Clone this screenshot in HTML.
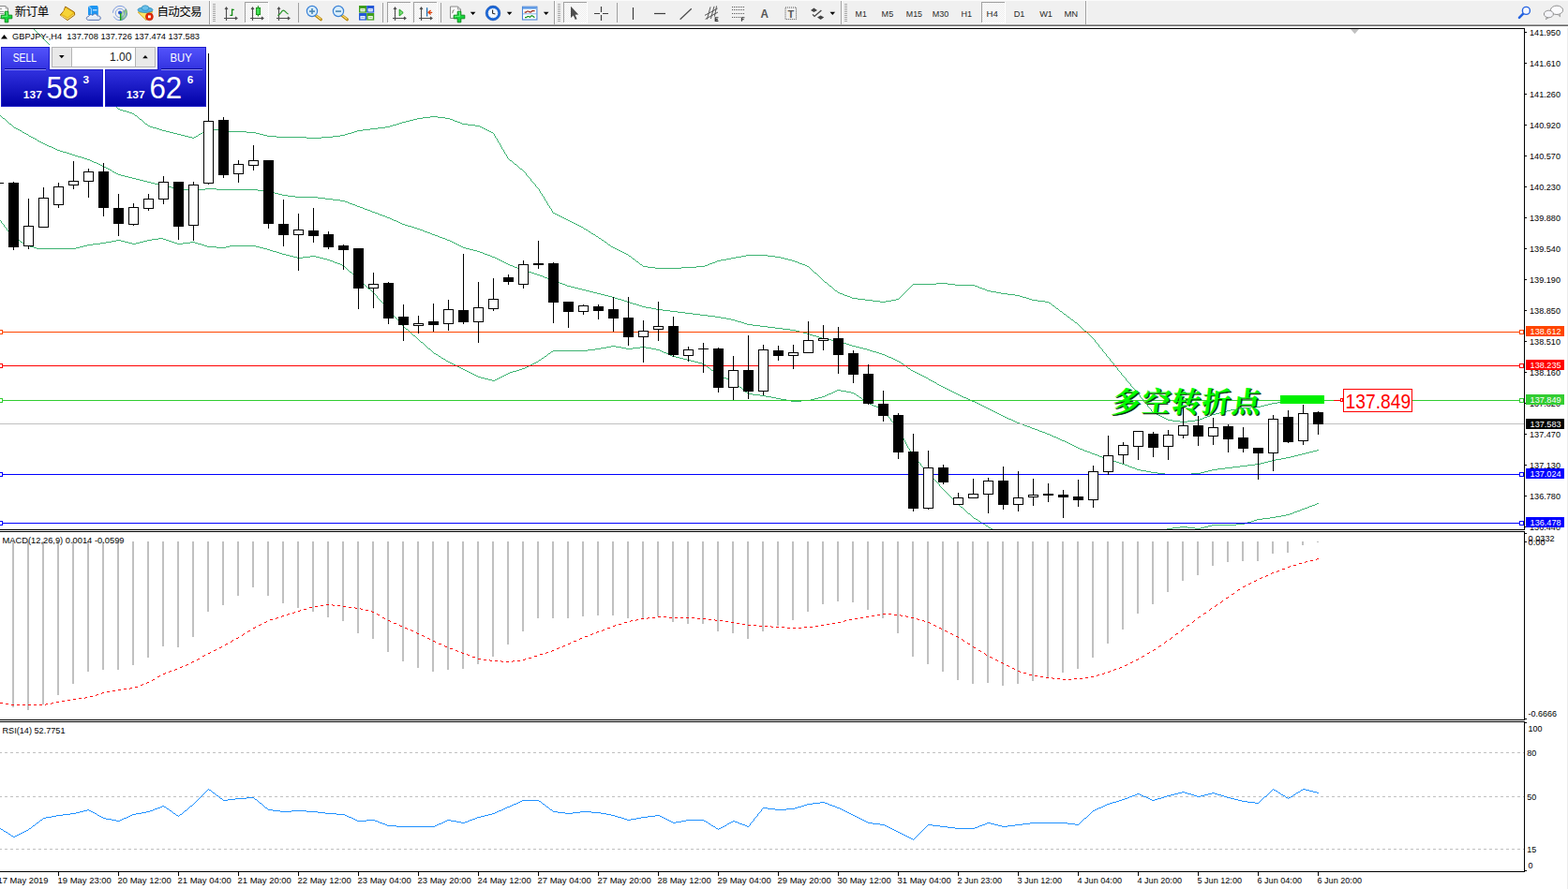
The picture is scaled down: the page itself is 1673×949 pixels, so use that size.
<!DOCTYPE html>
<html><head><meta charset="utf-8"><title>GBPJPY-,H4</title>
<style>
html,body{margin:0;padding:0;background:#fff;overflow:hidden}
svg{display:block}
text{font-family:"Liberation Sans",sans-serif;white-space:pre}
.ax{font-size:9.8px;fill:#000}
.cr{shape-rendering:crispEdges}
</style></head><body>
<svg width="1673" height="949" viewBox="0 0 1673 949">
<defs>
<clipPath id="cm"><rect x="0" y="31" width="1626" height="534"/></clipPath>
<linearGradient id="gb" x1="0" y1="0" x2="0" y2="1"><stop offset="0" stop-color="#5454fc"/><stop offset="0.38" stop-color="#3232e0"/><stop offset="1" stop-color="#0000a6"/></linearGradient>
<pattern id="chk" width="2" height="2" patternUnits="userSpaceOnUse"><rect width="2" height="2" fill="#fff"/><rect width="1" height="1" fill="#ececec"/><rect x="1" y="1" width="1" height="1" fill="#ececec"/></pattern>
</defs>
<rect width="1673" height="949" fill="#fff"/>

<g class="cr">
<rect x="0" y="30" width="1627" height="1" fill="#000"/>
<rect x="1626" y="30" width="1" height="900" fill="#000"/>
<rect x="0" y="565" width="1627" height="1" fill="#000"/>
<rect x="0" y="567" width="1627" height="1" fill="#000"/>
<rect x="0" y="768" width="1627" height="1" fill="#000"/>
<rect x="0" y="770" width="1627" height="1" fill="#000"/>
<rect x="0" y="930" width="1627" height="1" fill="#000"/>
<rect x="1626" y="566" width="1" height="1" fill="#fff"/>
<rect x="1626" y="769" width="1" height="1" fill="#fff"/>
<rect x="1672" y="27" width="1" height="922" fill="#ececec"/>
</g>
<g clip-path="url(#cm)">
<path d="M36 31.5h1M37 32.5h1M38 33.5h1M39 34.5h1M40 35.5h1M41 36.5h1M42 37.5h1M43 38.5h1M44 39.5h1M45 40.5h1M46 41.5h1M47 42.5h1M48 43.5h1M49 44.5h1M50 45.5h1M51 46.5h1M52 47.5h1M53 48.5h1M54 49.5h1M55 50.5h1M56 51.5h1M57 52.5h1M58 53.5h1M59 54.5h1M60 55.5h2M62 56.5h1M63 57.5h1M64 58.5h1M65 59.5h1M66 60.5h1M67 61.5h1M68 62.5h1M69 63.5h1M70 64.5h1M71 65.5h1M72 66.5h1M73 67.5h1M74 68.5h2M76 69.5h1M77 70.5h1M78 71.5h1M79 72.5h1M80 73.5h1M81 74.5h1M82 75.5h1M83 76.5h1M84 77.5h1M85 78.5h1M86 79.5h1M87 80.5h1M88 81.5h1M89 82.5h2M91 83.5h1M92 84.5h1M93 85.5h1M94 86.5h1M95 87.5h1M96 88.5h1M97 89.5h1M98 90.5h1M99 91.5h1M100 92.5h1M101 93.5h1M102 94.5h1M103 95.5h1M104 96.5h2M106 97.5h1M107 98.5h1M108 99.5h1M109 100.5h1M110 101.5h1M111 102.5h1M112 103.5h1M113 104.5h1M114 105.5h1M115 106.5h1M116 107.5h1M117 108.5h1M118 109.5h2M120 110.5h1M121 111.5h1M122 112.5h1M123 113.5h1M124 114.5h1M125 115.5h1M126 116.5h2M128 117.5h3M131 118.5h4M135 119.5h3M138 120.5h3M141 121.5h2M143 122.5h1M144 123.5h2M146 124.5h1M459 124.5h8M147 125.5h1M451 125.5h8M467 125.5h8M148 126.5h1M445 126.5h6M475 126.5h5M149 127.5h2M441 127.5h4M480 127.5h3M151 128.5h1M437 128.5h4M483 128.5h2M152 129.5h1M433 129.5h4M485 129.5h3M153 130.5h1M429 130.5h4M488 130.5h3M154 131.5h1M426 131.5h3M491 131.5h2M155 132.5h2M423 132.5h3M493 132.5h6M157 133.5h1M419 133.5h4M499 133.5h8M158 134.5h2M416 134.5h3M507 134.5h5M160 135.5h3M411 135.5h5M512 135.5h2M163 136.5h4M403 136.5h8M514 136.5h2M167 137.5h3M395 137.5h8M516 137.5h2M170 138.5h3M227 138.5h8M387 138.5h8M518 138.5h2M173 139.5h4M221 139.5h6M235 139.5h7M381 139.5h6M520 139.5h2M177 140.5h4M218 140.5h3M242 140.5h21M378 140.5h3M522 140.5h2M181 141.5h4M216 141.5h2M263 141.5h10M375 141.5h3M524 141.5h2M185 142.5h4M214 142.5h2M273 142.5h4M371 142.5h4M526 142.5h1M189 143.5h4M212 143.5h2M277 143.5h4M368 143.5h3M527 143.5h1M193 144.5h4M211 144.5h1M281 144.5h4M363 144.5h5M527 144.5h1M197 145.5h4M209 145.5h2M285 145.5h10M355 145.5h8M528 145.5h1M201 146.5h4M207 146.5h2M295 146.5h32M343 146.5h12M528 146.5h1M205 147.5h2M327 147.5h16M529 147.5h1M530 148.5h1M530 149.5h1M531 150.5h1M531 151.5h1M532 152.5h1M533 153.5h1M533 154.5h1M534 155.5h1M534 156.5h1M535 157.5h1M535 158.5h1M536 159.5h1M537 160.5h1M537 161.5h1M538 162.5h1M538 163.5h1M539 164.5h1M540 165.5h1M540 166.5h1M541 167.5h1M541 168.5h1M542 169.5h1M543 170.5h1M544 171.5h2M546 172.5h1M547 173.5h1M548 174.5h1M549 175.5h2M551 176.5h1M552 177.5h1M553 178.5h1M554 179.5h1M555 180.5h2M557 181.5h1M558 182.5h1M559 183.5h1M560 184.5h1M561 185.5h1M561 186.5h1M562 187.5h1M563 188.5h1M564 189.5h1M565 190.5h1M566 191.5h1M566 192.5h1M567 193.5h1M568 194.5h1M569 195.5h1M570 196.5h1M571 197.5h1M571 198.5h1M572 199.5h1M573 200.5h1M574 201.5h1M575 202.5h1M575 203.5h1M576 204.5h1M576 205.5h1M577 206.5h1M578 207.5h1M578 208.5h1M579 209.5h1M580 210.5h1M580 211.5h1M581 212.5h1M581 213.5h1M582 214.5h1M583 215.5h1M583 216.5h1M584 217.5h1M584 218.5h1M585 219.5h1M586 220.5h1M586 221.5h1M587 222.5h1M588 223.5h1M588 224.5h1M589 225.5h1M589 226.5h1M590 227.5h2M592 228.5h2M594 229.5h2M596 230.5h2M598 231.5h2M600 232.5h2M602 233.5h2M604 234.5h2M606 235.5h2M608 236.5h2M610 237.5h2M612 238.5h2M614 239.5h2M616 240.5h2M618 241.5h2M620 242.5h2M622 243.5h1M623 244.5h2M625 245.5h2M627 246.5h1M628 247.5h2M630 248.5h1M631 249.5h2M633 250.5h2M635 251.5h1M636 252.5h2M638 253.5h1M639 254.5h2M641 255.5h1M642 256.5h2M644 257.5h1M645 258.5h2M647 259.5h1M648 260.5h1M649 261.5h2M651 262.5h1M652 263.5h2M654 264.5h2M656 265.5h2M658 266.5h2M660 267.5h2M662 268.5h2M664 269.5h2M666 270.5h2M668 271.5h2M670 272.5h1M796 272.5h23M671 273.5h2M791 273.5h5M819 273.5h8M673 274.5h1M785 274.5h6M827 274.5h6M674 275.5h1M780 275.5h5M833 275.5h4M675 276.5h2M775 276.5h5M837 276.5h4M677 277.5h1M769 277.5h6M841 277.5h4M678 278.5h1M765 278.5h4M845 278.5h3M679 279.5h2M763 279.5h2M848 279.5h3M681 280.5h1M760 280.5h3M851 280.5h2M682 281.5h1M757 281.5h3M853 281.5h3M683 282.5h2M755 282.5h2M856 282.5h3M685 283.5h1M752 283.5h3M859 283.5h2M686 284.5h5M743 284.5h9M861 284.5h2M691 285.5h8M727 285.5h16M863 285.5h1M699 286.5h28M864 286.5h1M865 287.5h1M866 288.5h1M867 289.5h1M868 290.5h1M869 291.5h2M871 292.5h1M872 293.5h1M873 294.5h1M874 295.5h1M875 296.5h1M876 297.5h1M877 298.5h1M878 299.5h1M879 300.5h1M880 301.5h2M882 302.5h1M999 302.5h12M883 303.5h1M974 303.5h25M1011 303.5h8M884 304.5h1M973 304.5h1M1019 304.5h21M885 305.5h2M972 305.5h1M1040 305.5h3M887 306.5h1M971 306.5h1M1043 306.5h2M888 307.5h1M970 307.5h1M1045 307.5h3M889 308.5h1M969 308.5h1M1048 308.5h3M890 309.5h1M968 309.5h1M1051 309.5h2M891 310.5h2M967 310.5h1M1053 310.5h4M893 311.5h1M966 311.5h1M1057 311.5h6M894 312.5h2M965 312.5h1M1063 312.5h5M896 313.5h3M964 313.5h1M1068 313.5h7M899 314.5h2M963 314.5h1M1075 314.5h8M901 315.5h3M962 315.5h1M1083 315.5h5M904 316.5h3M961 316.5h1M1088 316.5h3M907 317.5h2M960 317.5h1M1091 317.5h4M909 318.5h6M959 318.5h1M1095 318.5h3M915 319.5h8M956 319.5h3M1098 319.5h3M923 320.5h8M951 320.5h5M1101 320.5h6M931 321.5h8M945 321.5h6M1107 321.5h8M939 322.5h6M1115 322.5h4M1119 323.5h2M1121 324.5h1M1122 325.5h1M1123 326.5h2M1125 327.5h1M1126 328.5h1M1127 329.5h2M1129 330.5h1M1130 331.5h1M1131 332.5h2M1133 333.5h1M1134 334.5h1M1135 335.5h2M1137 336.5h1M1138 337.5h1M1139 338.5h2M1141 339.5h1M1142 340.5h1M1143 341.5h2M1145 342.5h1M1146 343.5h1M1147 344.5h2M1149 345.5h1M1150 346.5h1M1151 347.5h1M1152 348.5h1M1153 349.5h1M1154 350.5h1M1155 351.5h1M1156 352.5h1M1157 353.5h2M1159 354.5h1M1160 355.5h1M1161 356.5h1M1162 357.5h1M1163 358.5h1M1164 359.5h1M1165 360.5h1M1166 361.5h1M1167 362.5h1M1168 363.5h1M1168 364.5h1M1169 365.5h1M1170 366.5h1M1171 367.5h1M1172 368.5h1M1172 369.5h1M1173 370.5h1M1174 371.5h1M1175 372.5h1M1176 373.5h1M1176 374.5h1M1177 375.5h1M1178 376.5h1M1179 377.5h1M1180 378.5h1M1180 379.5h1M1181 380.5h1M1182 381.5h1M1183 382.5h1M1184 383.5h1M1184 384.5h1M1185 385.5h1M1186 386.5h1M1187 387.5h1M1188 388.5h1M1188 389.5h1M1189 390.5h1M1190 391.5h1M1191 392.5h1M1192 393.5h1M1192 394.5h1M1193 395.5h1M1194 396.5h1M1195 397.5h1M1196 398.5h1M1196 399.5h1M1197 400.5h1M1198 401.5h1M1199 402.5h1M1200 403.5h1M1201 404.5h1M1201 405.5h1M1202 406.5h1M1203 407.5h1M1204 408.5h1M1205 409.5h1M1206 410.5h1M1206 411.5h1M1207 412.5h1M1208 413.5h1M1209 414.5h1M1210 415.5h1M1211 416.5h1M1211 417.5h1M1212 418.5h1M1213 419.5h1M1214 420.5h1M1215 421.5h1M1216 422.5h1M1216 423.5h1M1217 424.5h1M1403 424.5h4M1218 425.5h1M1395 425.5h8M1219 426.5h1M1387 426.5h8M1220 427.5h1M1379 427.5h8M1220 428.5h1M1371 428.5h8M1221 429.5h1M1363 429.5h8M1222 430.5h1M1357 430.5h6M1223 431.5h1M1353 431.5h4M1224 432.5h1M1349 432.5h4M1224 433.5h1M1345 433.5h4M1225 434.5h1M1335 434.5h10M1226 435.5h1M1324 435.5h11M1227 436.5h1M1319 436.5h5M1228 437.5h1M1313 437.5h6M1228 438.5h1M1309 438.5h4M1229 439.5h1M1305 439.5h4M1230 440.5h2M1301 440.5h4M1232 441.5h2M1297 441.5h4M1234 442.5h2M1293 442.5h4M1236 443.5h2M1291 443.5h2M1238 444.5h2M1288 444.5h3M1240 445.5h2M1285 445.5h3M1242 446.5h2M1283 446.5h2M1244 447.5h2M1280 447.5h3M1246 448.5h5M1275 448.5h5M1251 449.5h8M1267 449.5h8M1259 450.5h8" fill="none" stroke="#3cb371" stroke-width="1" shape-rendering="crispEdges"/>
<path d="M0 123.5h1M1 124.5h1M2 125.5h1M3 126.5h2M5 127.5h1M6 128.5h1M7 129.5h1M8 130.5h1M9 131.5h1M10 132.5h2M12 133.5h1M13 134.5h1M14 135.5h1M15 136.5h2M17 137.5h2M19 138.5h2M21 139.5h2M23 140.5h1M24 141.5h2M26 142.5h2M28 143.5h2M30 144.5h1M31 145.5h2M33 146.5h2M35 147.5h2M37 148.5h2M39 149.5h1M40 150.5h2M42 151.5h2M44 152.5h2M46 153.5h2M48 154.5h2M50 155.5h2M52 156.5h3M55 157.5h2M57 158.5h2M59 159.5h2M61 160.5h3M64 161.5h3M67 162.5h4M71 163.5h3M74 164.5h3M77 165.5h3M80 166.5h3M83 167.5h4M87 168.5h3M90 169.5h3M93 170.5h3M96 171.5h2M98 172.5h2M100 173.5h3M103 174.5h2M105 175.5h2M107 176.5h2M109 177.5h2M111 178.5h2M113 179.5h2M115 180.5h2M117 181.5h2M119 182.5h1M120 183.5h2M122 184.5h2M124 185.5h2M126 186.5h3M129 187.5h4M133 188.5h4M137 189.5h4M141 190.5h4M145 191.5h4M149 192.5h4M153 193.5h4M157 194.5h4M161 195.5h4M165 196.5h4M169 197.5h4M173 198.5h4M177 199.5h6M183 200.5h5M188 201.5h7M219 201.5h12M195 202.5h8M211 202.5h8M231 202.5h44M203 203.5h8M275 203.5h8M283 204.5h6M289 205.5h4M293 206.5h4M297 207.5h4M301 208.5h6M307 209.5h8M315 210.5h24M339 211.5h8M347 212.5h8M355 213.5h8M363 214.5h5M368 215.5h3M371 216.5h2M373 217.5h3M376 218.5h3M379 219.5h2M381 220.5h3M384 221.5h3M387 222.5h2M389 223.5h3M392 224.5h3M395 225.5h2M397 226.5h3M400 227.5h3M403 228.5h2M405 229.5h3M408 230.5h3M411 231.5h2M413 232.5h3M416 233.5h2M418 234.5h2M420 235.5h3M423 236.5h2M425 237.5h2M427 238.5h2M429 239.5h3M432 240.5h3M435 241.5h4M439 242.5h3M442 243.5h3M445 244.5h3M448 245.5h3M451 246.5h2M453 247.5h3M456 248.5h3M459 249.5h2M461 250.5h3M464 251.5h3M467 252.5h2M469 253.5h3M472 254.5h3M475 255.5h2M477 256.5h3M480 257.5h2M482 258.5h2M484 259.5h2M486 260.5h2M488 261.5h2M490 262.5h2M492 263.5h2M494 264.5h3M497 265.5h4M501 266.5h4M505 267.5h4M509 268.5h3M512 269.5h3M515 270.5h2M517 271.5h3M520 272.5h3M523 273.5h2M525 274.5h3M528 275.5h2M530 276.5h2M532 277.5h2M534 278.5h2M536 279.5h2M538 280.5h2M540 281.5h2M542 282.5h2M544 283.5h3M547 284.5h2M549 285.5h3M552 286.5h3M555 287.5h2M557 288.5h3M560 289.5h3M563 290.5h4M567 291.5h3M570 292.5h3M573 293.5h3M576 294.5h3M579 295.5h2M581 296.5h3M584 297.5h3M587 298.5h2M589 299.5h3M592 300.5h3M595 301.5h2M597 302.5h3M600 303.5h3M603 304.5h2M605 305.5h4M609 306.5h4M613 307.5h4M617 308.5h4M621 309.5h4M625 310.5h4M629 311.5h4M633 312.5h4M637 313.5h4M641 314.5h4M645 315.5h4M649 316.5h4M653 317.5h3M656 318.5h3M659 319.5h4M663 320.5h3M666 321.5h3M669 322.5h3M672 323.5h3M675 324.5h4M679 325.5h3M682 326.5h3M685 327.5h4M689 328.5h6M695 329.5h5M700 330.5h7M707 331.5h8M715 332.5h8M723 333.5h8M731 334.5h8M739 335.5h8M747 336.5h8M755 337.5h8M763 338.5h6M769 339.5h6M775 340.5h5M780 341.5h4M784 342.5h3M787 343.5h4M791 344.5h3M794 345.5h3M797 346.5h6M803 347.5h8M811 348.5h8M819 349.5h8M827 350.5h8M835 351.5h8M843 352.5h6M849 353.5h4M853 354.5h4M857 355.5h4M861 356.5h3M864 357.5h3M867 358.5h4M871 359.5h3M874 360.5h3M877 361.5h4M881 362.5h6M887 363.5h5M892 364.5h4M896 365.5h3M899 366.5h4M903 367.5h3M906 368.5h3M909 369.5h4M913 370.5h4M917 371.5h4M921 372.5h4M925 373.5h3M928 374.5h3M931 375.5h4M935 376.5h3M938 377.5h3M941 378.5h3M944 379.5h2M946 380.5h2M948 381.5h3M951 382.5h2M953 383.5h2M955 384.5h2M957 385.5h2M959 386.5h2M961 387.5h1M962 388.5h2M964 389.5h1M965 390.5h2M967 391.5h1M968 392.5h1M969 393.5h2M971 394.5h1M972 395.5h2M974 396.5h2M976 397.5h2M978 398.5h2M980 399.5h2M982 400.5h2M984 401.5h2M986 402.5h2M988 403.5h2M990 404.5h1M991 405.5h2M993 406.5h2M995 407.5h2M997 408.5h2M999 409.5h1M1000 410.5h2M1002 411.5h2M1004 412.5h2M1006 413.5h2M1008 414.5h2M1010 415.5h2M1012 416.5h2M1014 417.5h2M1016 418.5h2M1018 419.5h2M1020 420.5h2M1022 421.5h2M1024 422.5h2M1026 423.5h2M1028 424.5h3M1031 425.5h2M1033 426.5h2M1035 427.5h2M1037 428.5h3M1040 429.5h2M1042 430.5h2M1044 431.5h2M1046 432.5h2M1048 433.5h2M1050 434.5h2M1052 435.5h2M1054 436.5h2M1056 437.5h2M1058 438.5h2M1060 439.5h2M1062 440.5h2M1064 441.5h2M1066 442.5h2M1068 443.5h2M1070 444.5h2M1072 445.5h2M1074 446.5h2M1076 447.5h3M1079 448.5h2M1081 449.5h2M1083 450.5h2M1085 451.5h3M1088 452.5h3M1091 453.5h2M1093 454.5h3M1096 455.5h3M1099 456.5h2M1101 457.5h3M1104 458.5h3M1107 459.5h2M1109 460.5h3M1112 461.5h3M1115 462.5h2M1117 463.5h3M1120 464.5h2M1122 465.5h2M1124 466.5h3M1127 467.5h2M1129 468.5h2M1131 469.5h2M1133 470.5h3M1136 471.5h2M1138 472.5h2M1140 473.5h2M1142 474.5h2M1144 475.5h2M1146 476.5h2M1148 477.5h2M1150 478.5h2M1152 479.5h3M1155 480.5h2M1405 480.5h2M1157 481.5h3M1401 481.5h4M1160 482.5h3M1397 482.5h4M1163 483.5h2M1393 483.5h4M1165 484.5h3M1389 484.5h4M1168 485.5h3M1385 485.5h4M1171 486.5h2M1381 486.5h4M1173 487.5h3M1377 487.5h4M1176 488.5h3M1372 488.5h5M1179 489.5h2M1367 489.5h5M1181 490.5h3M1361 490.5h6M1184 491.5h3M1357 491.5h4M1187 492.5h4M1353 492.5h4M1191 493.5h3M1349 493.5h4M1194 494.5h3M1345 494.5h4M1197 495.5h3M1339 495.5h6M1200 496.5h3M1331 496.5h8M1203 497.5h2M1323 497.5h8M1205 498.5h3M1315 498.5h8M1208 499.5h3M1307 499.5h8M1211 500.5h2M1299 500.5h8M1213 501.5h4M1293 501.5h6M1217 502.5h6M1289 502.5h4M1223 503.5h5M1285 503.5h4M1228 504.5h7M1281 504.5h4M1235 505.5h8M1271 505.5h10M1243 506.5h28" fill="none" stroke="#3cb371" stroke-width="1" shape-rendering="crispEdges"/>
<path d="M0 235.5h1M1 236.5h1M1 237.5h1M2 238.5h1M3 239.5h1M4 240.5h1M4 241.5h1M5 242.5h1M6 243.5h1M7 244.5h1M7 245.5h1M8 246.5h1M9 247.5h1M10 248.5h2M12 249.5h1M13 250.5h1M14 251.5h1M15 252.5h1M16 253.5h2M18 254.5h1M169 254.5h5M19 255.5h1M162 255.5h7M174 255.5h3M20 256.5h1M124 256.5h5M157 256.5h5M177 256.5h3M21 257.5h1M119 257.5h5M129 257.5h4M153 257.5h4M180 257.5h3M22 258.5h2M113 258.5h6M133 258.5h4M149 258.5h4M183 258.5h3M203 258.5h5M24 259.5h1M107 259.5h6M137 259.5h4M145 259.5h4M186 259.5h3M195 259.5h8M208 259.5h3M25 260.5h1M99 260.5h8M141 260.5h4M189 260.5h6M211 260.5h4M26 261.5h3M93 261.5h6M215 261.5h3M29 262.5h3M89 262.5h4M218 262.5h3M245 262.5h28M32 263.5h4M85 263.5h4M221 263.5h10M241 263.5h4M273 263.5h4M36 264.5h3M81 264.5h4M231 264.5h10M277 264.5h4M39 265.5h42M281 265.5h4M285 266.5h3M288 267.5h3M291 268.5h4M295 269.5h3M298 270.5h3M301 271.5h4M305 272.5h4M309 273.5h4M331 273.5h6M313 274.5h4M323 274.5h8M337 274.5h4M317 275.5h6M341 275.5h4M345 276.5h4M349 277.5h3M352 278.5h3M355 279.5h2M357 280.5h3M360 281.5h3M363 282.5h2M365 283.5h2M367 284.5h1M368 285.5h1M369 286.5h1M370 287.5h1M371 288.5h1M372 289.5h1M373 290.5h2M375 291.5h1M376 292.5h1M377 293.5h1M378 294.5h1M379 295.5h1M380 296.5h1M381 297.5h1M382 298.5h1M383 299.5h1M384 300.5h1M385 301.5h2M387 302.5h1M388 303.5h1M389 304.5h1M390 305.5h1M391 306.5h1M392 307.5h1M393 308.5h2M395 309.5h1M396 310.5h1M397 311.5h1M398 312.5h1M399 313.5h1M400 314.5h1M401 315.5h1M402 316.5h1M402 317.5h1M403 318.5h1M404 319.5h1M405 320.5h1M406 321.5h1M407 322.5h1M408 323.5h1M409 324.5h1M410 325.5h1M410 326.5h1M411 327.5h1M412 328.5h1M413 329.5h1M414 330.5h1M415 331.5h1M416 332.5h1M417 333.5h1M418 334.5h1M418 335.5h1M419 336.5h1M420 337.5h1M421 338.5h1M422 339.5h1M423 340.5h1M424 341.5h1M425 342.5h1M426 343.5h1M426 344.5h1M427 345.5h1M428 346.5h1M429 347.5h1M430 348.5h1M431 349.5h1M432 350.5h1M433 351.5h2M435 352.5h1M436 353.5h1M437 354.5h1M438 355.5h1M439 356.5h1M440 357.5h1M441 358.5h2M443 359.5h1M444 360.5h1M445 361.5h1M446 362.5h1M447 363.5h1M448 364.5h1M449 365.5h2M451 366.5h1M452 367.5h1M453 368.5h1M454 369.5h1M652 369.5h5M455 370.5h1M647 370.5h5M657 370.5h6M683 370.5h6M456 371.5h1M641 371.5h6M663 371.5h5M675 371.5h8M689 371.5h6M457 372.5h2M635 372.5h6M668 372.5h7M695 372.5h5M459 373.5h1M627 373.5h8M700 373.5h4M460 374.5h1M590 374.5h37M704 374.5h2M461 375.5h1M588 375.5h2M706 375.5h2M462 376.5h1M587 376.5h1M708 376.5h3M463 377.5h2M585 377.5h2M711 377.5h2M465 378.5h2M584 378.5h1M713 378.5h2M467 379.5h1M583 379.5h1M715 379.5h2M468 380.5h2M581 380.5h2M717 380.5h4M470 381.5h1M580 381.5h1M721 381.5h4M471 382.5h2M578 382.5h2M725 382.5h4M473 383.5h2M577 383.5h1M729 383.5h4M475 384.5h1M575 384.5h2M733 384.5h4M476 385.5h2M574 385.5h1M737 385.5h4M478 386.5h2M572 386.5h2M741 386.5h4M480 387.5h2M570 387.5h2M745 387.5h4M482 388.5h2M568 388.5h2M749 388.5h2M484 389.5h2M566 389.5h2M751 389.5h2M486 390.5h2M564 390.5h2M753 390.5h1M488 391.5h2M562 391.5h2M754 391.5h1M490 392.5h2M560 392.5h2M755 392.5h2M492 393.5h2M557 393.5h3M757 393.5h1M494 394.5h2M554 394.5h3M758 394.5h1M496 395.5h2M551 395.5h3M759 395.5h2M498 396.5h2M547 396.5h4M761 396.5h1M500 397.5h2M544 397.5h3M762 397.5h1M502 398.5h2M542 398.5h2M763 398.5h2M504 399.5h2M540 399.5h2M765 399.5h1M506 400.5h2M538 400.5h2M766 400.5h2M508 401.5h2M536 401.5h2M768 401.5h2M510 402.5h3M534 402.5h2M770 402.5h2M513 403.5h4M532 403.5h2M772 403.5h3M517 404.5h4M530 404.5h2M775 404.5h2M521 405.5h4M528 405.5h2M777 405.5h2M525 406.5h3M779 406.5h2M781 407.5h2M783 408.5h1M784 409.5h2M786 410.5h1M787 411.5h1M788 412.5h1M789 413.5h2M791 414.5h1M792 415.5h1M793 416.5h1M893 416.5h4M794 417.5h1M891 417.5h2M897 417.5h6M795 418.5h2M889 418.5h2M903 418.5h5M797 419.5h1M887 419.5h2M908 419.5h3M798 420.5h5M884 420.5h3M911 420.5h2M803 421.5h8M882 421.5h2M913 421.5h1M811 422.5h6M880 422.5h2M914 422.5h2M817 423.5h6M877 423.5h3M916 423.5h1M823 424.5h5M873 424.5h4M917 424.5h2M828 425.5h5M869 425.5h4M919 425.5h1M833 426.5h6M865 426.5h4M920 426.5h1M839 427.5h5M855 427.5h10M921 427.5h2M844 428.5h11M923 428.5h1M924 429.5h2M926 430.5h2M928 431.5h2M930 432.5h2M932 433.5h3M935 434.5h2M937 435.5h2M939 436.5h2M941 437.5h2M943 438.5h1M944 439.5h1M944 440.5h1M945 441.5h1M946 442.5h1M947 443.5h1M947 444.5h1M948 445.5h1M949 446.5h1M950 447.5h1M950 448.5h1M951 449.5h1M952 450.5h1M953 451.5h1M953 452.5h1M954 453.5h1M955 454.5h1M956 455.5h1M956 456.5h1M957 457.5h1M958 458.5h1M959 459.5h1M959 460.5h1M960 461.5h1M960 462.5h1M961 463.5h1M961 464.5h1M962 465.5h1M962 466.5h1M963 467.5h1M964 468.5h1M964 469.5h1M965 470.5h1M965 471.5h1M966 472.5h1M966 473.5h1M967 474.5h1M967 475.5h1M968 476.5h1M968 477.5h1M969 478.5h1M970 479.5h1M970 480.5h1M971 481.5h1M971 482.5h1M972 483.5h1M972 484.5h1M973 485.5h1M973 486.5h1M974 487.5h1M975 488.5h1M976 489.5h1M977 490.5h1M978 491.5h1M979 492.5h1M980 493.5h1M981 494.5h1M982 495.5h1M982 496.5h1M983 497.5h1M984 498.5h1M985 499.5h1M986 500.5h1M987 501.5h1M988 502.5h1M989 503.5h1M990 504.5h1M991 505.5h1M992 506.5h1M993 507.5h1M994 508.5h1M994 509.5h1M995 510.5h1M996 511.5h1M997 512.5h1M998 513.5h1M999 514.5h1M1000 515.5h1M1001 516.5h1M1002 517.5h1M1002 518.5h1M1003 519.5h1M1004 520.5h1M1005 521.5h1M1006 522.5h1M1007 523.5h1M1008 524.5h1M1009 525.5h1M1010 526.5h1M1011 527.5h1M1012 528.5h1M1013 529.5h1M1014 530.5h1M1015 531.5h1M1016 532.5h1M1017 533.5h1M1018 534.5h1M1019 535.5h1M1020 536.5h1M1021 537.5h1M1405 537.5h2M1022 538.5h1M1403 538.5h2M1023 539.5h1M1400 539.5h3M1024 540.5h1M1397 540.5h3M1025 541.5h2M1395 541.5h2M1027 542.5h1M1392 542.5h3M1028 543.5h1M1389 543.5h3M1029 544.5h1M1387 544.5h2M1030 545.5h1M1384 545.5h3M1031 546.5h1M1381 546.5h3M1032 547.5h1M1379 547.5h2M1033 548.5h2M1376 548.5h3M1035 549.5h1M1372 549.5h4M1036 550.5h1M1367 550.5h5M1037 551.5h1M1361 551.5h6M1038 552.5h1M1355 552.5h6M1039 553.5h2M1347 553.5h8M1041 554.5h2M1341 554.5h6M1043 555.5h1M1338 555.5h3M1044 556.5h2M1335 556.5h3M1046 557.5h1M1331 557.5h4M1047 558.5h2M1328 558.5h3M1049 559.5h2M1319 559.5h9M1051 560.5h1M1293 560.5h26M1052 561.5h2M1289 561.5h4M1054 562.5h1M1259 562.5h8M1285 562.5h4M1055 563.5h2M1251 563.5h8M1267 563.5h8M1281 563.5h4M1057 564.5h2M1245 564.5h6M1275 564.5h6" fill="none" stroke="#3cb371" stroke-width="1" shape-rendering="crispEdges"/>
<g class="cr">
<rect x="0" y="354" width="1626" height="1" fill="#ff4500"/>
<rect x="0" y="390" width="1626" height="1" fill="#ff0000"/>
<rect x="0" y="427" width="1626" height="1" fill="#32cd32"/>
<rect x="0" y="452" width="1626" height="1" fill="#c0c0c0"/>
<rect x="0" y="506" width="1626" height="1" fill="#0000ff"/>
<rect x="0" y="558" width="1626" height="1" fill="#0000ff"/>
</g>
<g class="cr">
<rect x="0" y="195" width="4" height="1" fill="#000"/>
<rect x="14" y="194" width="1" height="73" fill="#000"/>
<rect x="9" y="195" width="11" height="69" fill="#000"/>
<rect x="30" y="212" width="1" height="54" fill="#000"/>
<rect x="25" y="241" width="11" height="22" fill="#000"/><rect x="26" y="242" width="9" height="20" fill="#fff"/>
<rect x="46" y="200" width="1" height="43" fill="#000"/>
<rect x="41" y="211" width="11" height="32" fill="#000"/><rect x="42" y="212" width="9" height="30" fill="#fff"/>
<rect x="62" y="195" width="1" height="27" fill="#000"/>
<rect x="57" y="199" width="11" height="20" fill="#000"/><rect x="58" y="200" width="9" height="18" fill="#fff"/>
<rect x="78" y="172" width="1" height="30" fill="#000"/>
<rect x="73" y="193" width="11" height="5" fill="#000"/><rect x="74" y="194" width="9" height="3" fill="#fff"/>
<rect x="94" y="180" width="1" height="31" fill="#000"/>
<rect x="89" y="183" width="11" height="11" fill="#000"/><rect x="90" y="184" width="9" height="9" fill="#fff"/>
<rect x="110" y="174" width="1" height="57" fill="#000"/>
<rect x="105" y="183" width="11" height="39" fill="#000"/>
<rect x="126" y="207" width="1" height="45" fill="#000"/>
<rect x="121" y="222" width="11" height="17" fill="#000"/>
<rect x="142" y="217" width="1" height="24" fill="#000"/>
<rect x="137" y="221" width="11" height="19" fill="#000"/><rect x="138" y="222" width="9" height="17" fill="#fff"/>
<rect x="158" y="207" width="1" height="18" fill="#000"/>
<rect x="153" y="212" width="11" height="11" fill="#000"/><rect x="154" y="213" width="9" height="9" fill="#fff"/>
<rect x="174" y="188" width="1" height="30" fill="#000"/>
<rect x="169" y="194" width="11" height="19" fill="#000"/><rect x="170" y="195" width="9" height="17" fill="#fff"/>
<rect x="190" y="194" width="1" height="62" fill="#000"/>
<rect x="185" y="194" width="11" height="48" fill="#000"/>
<rect x="206" y="194" width="1" height="63" fill="#000"/>
<rect x="201" y="197" width="11" height="44" fill="#000"/><rect x="202" y="198" width="9" height="42" fill="#fff"/>
<rect x="222" y="57" width="1" height="140" fill="#000"/>
<rect x="217" y="129" width="11" height="67" fill="#000"/><rect x="218" y="130" width="9" height="65" fill="#fff"/>
<rect x="238" y="125" width="1" height="65" fill="#000"/>
<rect x="233" y="128" width="11" height="59" fill="#000"/>
<rect x="254" y="171" width="1" height="24" fill="#000"/>
<rect x="249" y="175" width="11" height="11" fill="#000"/><rect x="250" y="176" width="9" height="9" fill="#fff"/>
<rect x="270" y="155" width="1" height="27" fill="#000"/>
<rect x="265" y="171" width="11" height="6" fill="#000"/><rect x="266" y="172" width="9" height="4" fill="#fff"/>
<rect x="286" y="171" width="1" height="73" fill="#000"/>
<rect x="281" y="171" width="11" height="68" fill="#000"/>
<rect x="302" y="213" width="1" height="50" fill="#000"/>
<rect x="297" y="239" width="11" height="12" fill="#000"/>
<rect x="318" y="228" width="1" height="61" fill="#000"/>
<rect x="313" y="245" width="11" height="6" fill="#000"/><rect x="314" y="246" width="9" height="4" fill="#fff"/>
<rect x="334" y="222" width="1" height="37" fill="#000"/>
<rect x="329" y="246" width="11" height="6" fill="#000"/>
<rect x="350" y="247" width="1" height="19" fill="#000"/>
<rect x="345" y="250" width="11" height="14" fill="#000"/>
<rect x="366" y="261" width="1" height="27" fill="#000"/>
<rect x="361" y="262" width="11" height="5" fill="#000"/>
<rect x="382" y="265" width="1" height="65" fill="#000"/>
<rect x="377" y="265" width="11" height="43" fill="#000"/>
<rect x="398" y="291" width="1" height="38" fill="#000"/>
<rect x="393" y="303" width="11" height="5" fill="#000"/><rect x="394" y="304" width="9" height="3" fill="#fff"/>
<rect x="414" y="301" width="1" height="45" fill="#000"/>
<rect x="409" y="302" width="11" height="38" fill="#000"/>
<rect x="430" y="325" width="1" height="39" fill="#000"/>
<rect x="425" y="338" width="11" height="9" fill="#000"/>
<rect x="446" y="337" width="1" height="19" fill="#000"/>
<rect x="441" y="345" width="11" height="3" fill="#000"/><rect x="442" y="346" width="9" height="1" fill="#fff"/>
<rect x="462" y="324" width="1" height="30" fill="#000"/>
<rect x="457" y="343" width="11" height="4" fill="#000"/>
<rect x="478" y="320" width="1" height="33" fill="#000"/>
<rect x="473" y="330" width="11" height="16" fill="#000"/><rect x="474" y="331" width="9" height="14" fill="#fff"/>
<rect x="494" y="271" width="1" height="75" fill="#000"/>
<rect x="489" y="331" width="11" height="13" fill="#000"/>
<rect x="510" y="301" width="1" height="65" fill="#000"/>
<rect x="505" y="328" width="11" height="16" fill="#000"/><rect x="506" y="329" width="9" height="14" fill="#fff"/>
<rect x="526" y="297" width="1" height="35" fill="#000"/>
<rect x="521" y="319" width="11" height="11" fill="#000"/><rect x="522" y="320" width="9" height="9" fill="#fff"/>
<rect x="542" y="293" width="1" height="11" fill="#000"/>
<rect x="537" y="296" width="11" height="5" fill="#000"/>
<rect x="558" y="278" width="1" height="30" fill="#000"/>
<rect x="553" y="282" width="11" height="22" fill="#000"/><rect x="554" y="283" width="9" height="20" fill="#fff"/>
<rect x="574" y="257" width="1" height="30" fill="#000"/>
<rect x="569" y="281" width="11" height="2" fill="#000"/>
<rect x="590" y="280" width="1" height="65" fill="#000"/>
<rect x="585" y="281" width="11" height="42" fill="#000"/>
<rect x="606" y="322" width="1" height="28" fill="#000"/>
<rect x="601" y="322" width="11" height="11" fill="#000"/>
<rect x="622" y="325" width="1" height="11" fill="#000"/>
<rect x="617" y="326" width="11" height="7" fill="#000"/><rect x="618" y="327" width="9" height="5" fill="#fff"/>
<rect x="638" y="325" width="1" height="16" fill="#000"/>
<rect x="633" y="327" width="11" height="5" fill="#000"/>
<rect x="654" y="317" width="1" height="37" fill="#000"/>
<rect x="649" y="330" width="11" height="10" fill="#000"/>
<rect x="670" y="317" width="1" height="52" fill="#000"/>
<rect x="665" y="339" width="11" height="21" fill="#000"/>
<rect x="686" y="342" width="1" height="45" fill="#000"/>
<rect x="681" y="353" width="11" height="7" fill="#000"/><rect x="682" y="354" width="9" height="5" fill="#fff"/>
<rect x="702" y="322" width="1" height="42" fill="#000"/>
<rect x="697" y="348" width="11" height="4" fill="#000"/><rect x="698" y="349" width="9" height="2" fill="#fff"/>
<rect x="718" y="338" width="1" height="43" fill="#000"/>
<rect x="713" y="348" width="11" height="31" fill="#000"/>
<rect x="734" y="370" width="1" height="16" fill="#000"/>
<rect x="729" y="373" width="11" height="7" fill="#000"/><rect x="730" y="374" width="9" height="5" fill="#fff"/>
<rect x="750" y="366" width="1" height="32" fill="#000"/>
<rect x="745" y="372" width="11" height="1" fill="#000"/>
<rect x="766" y="371" width="1" height="48" fill="#000"/>
<rect x="761" y="372" width="11" height="42" fill="#000"/>
<rect x="782" y="380" width="1" height="47" fill="#000"/>
<rect x="777" y="395" width="11" height="19" fill="#000"/><rect x="778" y="396" width="9" height="17" fill="#fff"/>
<rect x="798" y="358" width="1" height="68" fill="#000"/>
<rect x="793" y="395" width="11" height="23" fill="#000"/>
<rect x="814" y="368" width="1" height="54" fill="#000"/>
<rect x="809" y="373" width="11" height="45" fill="#000"/><rect x="810" y="374" width="9" height="43" fill="#fff"/>
<rect x="830" y="369" width="1" height="16" fill="#000"/>
<rect x="825" y="374" width="11" height="6" fill="#000"/>
<rect x="846" y="368" width="1" height="26" fill="#000"/>
<rect x="841" y="376" width="11" height="4" fill="#000"/><rect x="842" y="377" width="9" height="2" fill="#fff"/>
<rect x="862" y="343" width="1" height="34" fill="#000"/>
<rect x="857" y="363" width="11" height="14" fill="#000"/><rect x="858" y="364" width="9" height="12" fill="#fff"/>
<rect x="878" y="347" width="1" height="27" fill="#000"/>
<rect x="873" y="361" width="11" height="3" fill="#000"/><rect x="874" y="362" width="9" height="1" fill="#fff"/>
<rect x="894" y="349" width="1" height="50" fill="#000"/>
<rect x="889" y="361" width="11" height="18" fill="#000"/>
<rect x="910" y="374" width="1" height="35" fill="#000"/>
<rect x="905" y="377" width="11" height="23" fill="#000"/>
<rect x="926" y="389" width="1" height="43" fill="#000"/>
<rect x="921" y="399" width="11" height="32" fill="#000"/>
<rect x="942" y="417" width="1" height="33" fill="#000"/>
<rect x="937" y="431" width="11" height="13" fill="#000"/>
<rect x="958" y="441" width="1" height="49" fill="#000"/>
<rect x="953" y="443" width="11" height="40" fill="#000"/>
<rect x="974" y="463" width="1" height="83" fill="#000"/>
<rect x="969" y="482" width="11" height="61" fill="#000"/>
<rect x="990" y="481" width="1" height="63" fill="#000"/>
<rect x="985" y="499" width="11" height="44" fill="#000"/><rect x="986" y="500" width="9" height="42" fill="#fff"/>
<rect x="1006" y="496" width="1" height="21" fill="#000"/>
<rect x="1001" y="499" width="11" height="16" fill="#000"/>
<rect x="1022" y="526" width="1" height="13" fill="#000"/>
<rect x="1017" y="531" width="11" height="8" fill="#000"/><rect x="1018" y="532" width="9" height="6" fill="#fff"/>
<rect x="1038" y="511" width="1" height="21" fill="#000"/>
<rect x="1033" y="527" width="11" height="5" fill="#000"/><rect x="1034" y="528" width="9" height="3" fill="#fff"/>
<rect x="1054" y="510" width="1" height="38" fill="#000"/>
<rect x="1049" y="513" width="11" height="15" fill="#000"/><rect x="1050" y="514" width="9" height="13" fill="#fff"/>
<rect x="1070" y="498" width="1" height="46" fill="#000"/>
<rect x="1065" y="513" width="11" height="26" fill="#000"/>
<rect x="1086" y="503" width="1" height="43" fill="#000"/>
<rect x="1081" y="531" width="11" height="8" fill="#000"/><rect x="1082" y="532" width="9" height="6" fill="#fff"/>
<rect x="1102" y="511" width="1" height="29" fill="#000"/>
<rect x="1097" y="528" width="11" height="3" fill="#000"/><rect x="1098" y="529" width="9" height="1" fill="#fff"/>
<rect x="1118" y="516" width="1" height="20" fill="#000"/>
<rect x="1113" y="527" width="11" height="2" fill="#000"/>
<rect x="1134" y="523" width="1" height="30" fill="#000"/>
<rect x="1129" y="528" width="11" height="3" fill="#000"/>
<rect x="1150" y="512" width="1" height="29" fill="#000"/>
<rect x="1145" y="530" width="11" height="4" fill="#000"/>
<rect x="1166" y="497" width="1" height="45" fill="#000"/>
<rect x="1161" y="503" width="11" height="31" fill="#000"/><rect x="1162" y="504" width="9" height="29" fill="#fff"/>
<rect x="1182" y="465" width="1" height="42" fill="#000"/>
<rect x="1177" y="486" width="11" height="18" fill="#000"/><rect x="1178" y="487" width="9" height="16" fill="#fff"/>
<rect x="1198" y="472" width="1" height="23" fill="#000"/>
<rect x="1193" y="475" width="11" height="11" fill="#000"/><rect x="1194" y="476" width="9" height="9" fill="#fff"/>
<rect x="1214" y="460" width="1" height="31" fill="#000"/>
<rect x="1209" y="460" width="11" height="17" fill="#000"/><rect x="1210" y="461" width="9" height="15" fill="#fff"/>
<rect x="1230" y="461" width="1" height="27" fill="#000"/>
<rect x="1225" y="463" width="11" height="15" fill="#000"/>
<rect x="1246" y="459" width="1" height="32" fill="#000"/>
<rect x="1241" y="464" width="11" height="13" fill="#000"/><rect x="1242" y="465" width="9" height="11" fill="#fff"/>
<rect x="1262" y="435" width="1" height="33" fill="#000"/>
<rect x="1257" y="454" width="11" height="11" fill="#000"/><rect x="1258" y="455" width="9" height="9" fill="#fff"/>
<rect x="1278" y="444" width="1" height="32" fill="#000"/>
<rect x="1273" y="454" width="11" height="12" fill="#000"/>
<rect x="1294" y="446" width="1" height="29" fill="#000"/>
<rect x="1289" y="456" width="11" height="10" fill="#000"/><rect x="1290" y="457" width="9" height="8" fill="#fff"/>
<rect x="1310" y="453" width="1" height="30" fill="#000"/>
<rect x="1305" y="455" width="11" height="14" fill="#000"/>
<rect x="1326" y="456" width="1" height="27" fill="#000"/>
<rect x="1321" y="467" width="11" height="12" fill="#000"/>
<rect x="1342" y="478" width="1" height="34" fill="#000"/>
<rect x="1337" y="478" width="11" height="6" fill="#000"/>
<rect x="1358" y="443" width="1" height="60" fill="#000"/>
<rect x="1353" y="447" width="11" height="37" fill="#000"/><rect x="1354" y="448" width="9" height="35" fill="#fff"/>
<rect x="1374" y="438" width="1" height="35" fill="#000"/>
<rect x="1369" y="445" width="11" height="27" fill="#000"/>
<rect x="1390" y="432" width="1" height="43" fill="#000"/>
<rect x="1385" y="441" width="11" height="30" fill="#000"/><rect x="1386" y="442" width="9" height="28" fill="#fff"/>
<rect x="1406" y="439" width="1" height="25" fill="#000"/>
<rect x="1401" y="440" width="11" height="13" fill="#000"/>
</g>
</g>
<g class="cr">
<rect x="13" y="578" width="2" height="177" fill="#c0c0c0"/>
<rect x="29" y="578" width="2" height="180" fill="#c0c0c0"/>
<rect x="45" y="578" width="2" height="174" fill="#c0c0c0"/>
<rect x="61" y="578" width="2" height="164" fill="#c0c0c0"/>
<rect x="77" y="578" width="2" height="152" fill="#c0c0c0"/>
<rect x="93" y="578" width="2" height="139" fill="#c0c0c0"/>
<rect x="109" y="578" width="2" height="137" fill="#c0c0c0"/>
<rect x="125" y="578" width="2" height="137" fill="#c0c0c0"/>
<rect x="141" y="578" width="2" height="132" fill="#c0c0c0"/>
<rect x="157" y="578" width="2" height="124" fill="#c0c0c0"/>
<rect x="173" y="578" width="2" height="112" fill="#c0c0c0"/>
<rect x="189" y="578" width="2" height="113" fill="#c0c0c0"/>
<rect x="205" y="578" width="2" height="102" fill="#c0c0c0"/>
<rect x="221" y="578" width="2" height="75" fill="#c0c0c0"/>
<rect x="237" y="578" width="2" height="68" fill="#c0c0c0"/>
<rect x="253" y="578" width="2" height="58" fill="#c0c0c0"/>
<rect x="269" y="578" width="2" height="49" fill="#c0c0c0"/>
<rect x="285" y="578" width="2" height="58" fill="#c0c0c0"/>
<rect x="301" y="578" width="2" height="66" fill="#c0c0c0"/>
<rect x="317" y="578" width="2" height="71" fill="#c0c0c0"/>
<rect x="333" y="578" width="2" height="75" fill="#c0c0c0"/>
<rect x="349" y="578" width="2" height="81" fill="#c0c0c0"/>
<rect x="365" y="578" width="2" height="85" fill="#c0c0c0"/>
<rect x="381" y="578" width="2" height="98" fill="#c0c0c0"/>
<rect x="397" y="578" width="2" height="104" fill="#c0c0c0"/>
<rect x="413" y="578" width="2" height="118" fill="#c0c0c0"/>
<rect x="429" y="578" width="2" height="128" fill="#c0c0c0"/>
<rect x="445" y="578" width="2" height="135" fill="#c0c0c0"/>
<rect x="461" y="578" width="2" height="139" fill="#c0c0c0"/>
<rect x="477" y="578" width="2" height="137" fill="#c0c0c0"/>
<rect x="493" y="578" width="2" height="136" fill="#c0c0c0"/>
<rect x="509" y="578" width="2" height="131" fill="#c0c0c0"/>
<rect x="525" y="578" width="2" height="123" fill="#c0c0c0"/>
<rect x="541" y="578" width="2" height="110" fill="#c0c0c0"/>
<rect x="557" y="578" width="2" height="96" fill="#c0c0c0"/>
<rect x="573" y="578" width="2" height="82" fill="#c0c0c0"/>
<rect x="589" y="578" width="2" height="82" fill="#c0c0c0"/>
<rect x="605" y="578" width="2" height="82" fill="#c0c0c0"/>
<rect x="621" y="578" width="2" height="80" fill="#c0c0c0"/>
<rect x="637" y="578" width="2" height="79" fill="#c0c0c0"/>
<rect x="653" y="578" width="2" height="79" fill="#c0c0c0"/>
<rect x="669" y="578" width="2" height="82" fill="#c0c0c0"/>
<rect x="685" y="578" width="2" height="82" fill="#c0c0c0"/>
<rect x="701" y="578" width="2" height="80" fill="#c0c0c0"/>
<rect x="717" y="578" width="2" height="86" fill="#c0c0c0"/>
<rect x="733" y="578" width="2" height="88" fill="#c0c0c0"/>
<rect x="749" y="578" width="2" height="88" fill="#c0c0c0"/>
<rect x="765" y="578" width="2" height="96" fill="#c0c0c0"/>
<rect x="781" y="578" width="2" height="98" fill="#c0c0c0"/>
<rect x="797" y="578" width="2" height="104" fill="#c0c0c0"/>
<rect x="813" y="578" width="2" height="96" fill="#c0c0c0"/>
<rect x="829" y="578" width="2" height="90" fill="#c0c0c0"/>
<rect x="845" y="578" width="2" height="84" fill="#c0c0c0"/>
<rect x="861" y="578" width="2" height="75" fill="#c0c0c0"/>
<rect x="877" y="578" width="2" height="67" fill="#c0c0c0"/>
<rect x="893" y="578" width="2" height="64" fill="#c0c0c0"/>
<rect x="909" y="578" width="2" height="65" fill="#c0c0c0"/>
<rect x="925" y="578" width="2" height="73" fill="#c0c0c0"/>
<rect x="941" y="578" width="2" height="82" fill="#c0c0c0"/>
<rect x="957" y="578" width="2" height="98" fill="#c0c0c0"/>
<rect x="973" y="578" width="2" height="123" fill="#c0c0c0"/>
<rect x="989" y="578" width="2" height="131" fill="#c0c0c0"/>
<rect x="1005" y="578" width="2" height="139" fill="#c0c0c0"/>
<rect x="1021" y="578" width="2" height="148" fill="#c0c0c0"/>
<rect x="1037" y="578" width="2" height="152" fill="#c0c0c0"/>
<rect x="1053" y="578" width="2" height="151" fill="#c0c0c0"/>
<rect x="1069" y="578" width="2" height="154" fill="#c0c0c0"/>
<rect x="1085" y="578" width="2" height="152" fill="#c0c0c0"/>
<rect x="1101" y="578" width="2" height="149" fill="#c0c0c0"/>
<rect x="1117" y="578" width="2" height="145" fill="#c0c0c0"/>
<rect x="1133" y="578" width="2" height="140" fill="#c0c0c0"/>
<rect x="1149" y="578" width="2" height="136" fill="#c0c0c0"/>
<rect x="1165" y="578" width="2" height="124" fill="#c0c0c0"/>
<rect x="1181" y="578" width="2" height="109" fill="#c0c0c0"/>
<rect x="1197" y="578" width="2" height="94" fill="#c0c0c0"/>
<rect x="1213" y="578" width="2" height="77" fill="#c0c0c0"/>
<rect x="1229" y="578" width="2" height="67" fill="#c0c0c0"/>
<rect x="1245" y="578" width="2" height="54" fill="#c0c0c0"/>
<rect x="1261" y="578" width="2" height="42" fill="#c0c0c0"/>
<rect x="1277" y="578" width="2" height="36" fill="#c0c0c0"/>
<rect x="1293" y="578" width="2" height="26" fill="#c0c0c0"/>
<rect x="1309" y="578" width="2" height="22" fill="#c0c0c0"/>
<rect x="1325" y="578" width="2" height="21" fill="#c0c0c0"/>
<rect x="1341" y="578" width="2" height="21" fill="#c0c0c0"/>
<rect x="1357" y="578" width="2" height="13" fill="#c0c0c0"/>
<rect x="1373" y="578" width="2" height="12" fill="#c0c0c0"/>
<rect x="1389" y="578" width="2" height="4" fill="#c0c0c0"/>
<rect x="1405" y="578" width="2" height="1" fill="#c0c0c0"/>
</g>
<path d="M1405 596.5h2M1404 597.5h1M1398 598.5h3M1393 599.5h2M1392 600.5h1M1386 601.5h3M1380 603.5h3M1376 604.5h1M1374 605.5h2M1368 607.5h3M1363 609.5h2M1362 610.5h1M1357 611.5h2M1356 612.5h1M1351 614.5h2M1350 615.5h1M1346 616.5h1M1344 617.5h2M1340 619.5h1M1338 620.5h2M1334 622.5h1M1332 623.5h2M1328 625.5h1M1326 626.5h2M1321 629.5h2M1320 630.5h1M1316 633.5h1M1314 634.5h2M1310 637.5h1M1308 638.5h2M1304 641.5h1M1303 642.5h1M1302 643.5h1M348 645.5h3M354 645.5h1M1298 645.5h1M342 646.5h3M355 646.5h2M360 646.5h3M1297 646.5h1M336 647.5h3M366 647.5h3M1296 647.5h1M330 648.5h3M372 648.5h3M378 648.5h1M379 649.5h2M384 649.5h1M1292 649.5h1M324 650.5h3M385 650.5h2M1291 650.5h1M320 651.5h1M390 651.5h3M1290 651.5h1M318 652.5h2M396 652.5h1M314 653.5h1M397 653.5h2M312 654.5h2M1285 654.5h2M307 655.5h2M402 655.5h1M942 655.5h3M948 655.5h3M1284 655.5h1M306 656.5h1M403 656.5h2M936 656.5h3M954 656.5h3M960 656.5h1M301 657.5h2M930 657.5h3M961 657.5h2M966 657.5h1M300 658.5h1M702 658.5h3M708 658.5h3M924 658.5h3M967 658.5h2M1279 658.5h2M295 659.5h2M408 659.5h2M691 659.5h2M696 659.5h3M714 659.5h3M720 659.5h3M726 659.5h3M732 659.5h3M738 659.5h3M918 659.5h3M972 659.5h3M1278 659.5h1M294 660.5h1M410 660.5h1M684 660.5h3M690 660.5h1M744 660.5h3M750 660.5h3M912 660.5h3M978 660.5h1M288 661.5h3M679 661.5h2M756 661.5h3M762 661.5h1M906 661.5h3M979 661.5h2M414 662.5h2M673 662.5h2M678 662.5h1M763 662.5h2M768 662.5h3M901 662.5h2M984 662.5h2M1274 662.5h1M284 663.5h1M416 663.5h1M672 663.5h1M774 663.5h3M900 663.5h1M986 663.5h1M1273 663.5h1M282 664.5h2M666 664.5h3M780 664.5h3M894 664.5h3M990 664.5h2M1272 664.5h1M420 665.5h3M786 665.5h3M888 665.5h3M992 665.5h1M278 666.5h1M660 666.5h3M792 666.5h3M882 666.5h3M276 667.5h2M426 667.5h1M656 667.5h1M798 667.5h3M804 667.5h3M876 667.5h3M996 667.5h2M1267 667.5h2M427 668.5h2M654 668.5h2M810 668.5h3M816 668.5h3M822 668.5h1M870 668.5h3M998 668.5h1M1266 668.5h1M272 669.5h1M823 669.5h2M828 669.5h3M834 669.5h3M858 669.5h3M864 669.5h3M270 670.5h2M432 670.5h2M648 670.5h3M840 670.5h3M846 670.5h3M852 670.5h3M1002 670.5h2M434 671.5h1M1004 671.5h1M1262 671.5h1M438 672.5h1M643 672.5h2M1261 672.5h1M265 673.5h2M439 673.5h2M642 673.5h1M1008 673.5h2M1260 673.5h1M264 674.5h1M637 674.5h2M1010 674.5h1M444 675.5h1M636 675.5h1M260 676.5h1M445 676.5h2M632 676.5h1M1014 676.5h2M1255 676.5h2M259 677.5h1M630 677.5h2M1016 677.5h1M1254 677.5h1M258 678.5h1M450 678.5h2M452 679.5h1M624 679.5h3M1020 679.5h2M254 680.5h1M1022 680.5h1M1250 680.5h1M252 681.5h2M456 681.5h2M619 681.5h2M1249 681.5h1M458 682.5h1M618 682.5h1M1026 682.5h1M1248 682.5h1M248 683.5h1M1027 683.5h1M247 684.5h1M462 684.5h2M612 684.5h3M1028 684.5h1M1244 684.5h1M246 685.5h1M464 685.5h1M1243 685.5h1M608 686.5h1M1032 686.5h1M1242 686.5h1M241 687.5h2M468 687.5h3M606 687.5h2M1033 687.5h2M240 688.5h1M474 689.5h1M601 689.5h2M1237 689.5h2M236 690.5h1M475 690.5h2M600 690.5h1M1038 690.5h1M1236 690.5h1M234 691.5h2M596 691.5h1M1039 691.5h2M480 692.5h3M594 692.5h2M230 693.5h1M1231 693.5h2M228 694.5h2M486 694.5h2M589 694.5h2M1044 694.5h2M1230 694.5h1M488 695.5h1M588 695.5h1M1046 695.5h1M224 696.5h1M492 696.5h1M583 696.5h2M1226 696.5h1M222 697.5h2M493 697.5h2M582 697.5h1M1050 697.5h1M1224 697.5h2M498 698.5h1M576 698.5h3M1051 698.5h1M218 699.5h1M499 699.5h2M1052 699.5h1M216 700.5h2M570 700.5h3M1219 700.5h2M504 701.5h3M1056 701.5h2M1218 701.5h1M564 702.5h3M1058 702.5h1M211 703.5h2M510 703.5h3M560 703.5h1M1214 703.5h1M210 704.5h1M516 704.5h3M522 704.5h1M558 704.5h2M1062 704.5h2M1212 704.5h2M523 705.5h2M528 705.5h3M534 705.5h1M547 705.5h2M552 705.5h3M1064 705.5h1M205 706.5h2M535 706.5h2M540 706.5h3M546 706.5h1M1208 706.5h1M204 707.5h1M1068 707.5h2M1206 707.5h2M1070 708.5h1M199 709.5h2M1202 709.5h1M198 710.5h1M1074 710.5h2M1200 710.5h2M194 711.5h1M1076 711.5h1M192 712.5h2M1195 712.5h2M1080 713.5h2M1194 713.5h1M187 714.5h2M1082 714.5h1M1189 714.5h2M186 715.5h1M1188 715.5h1M181 716.5h2M1086 716.5h2M1184 716.5h1M180 717.5h1M1088 717.5h1M1182 717.5h2M176 718.5h1M1092 718.5h3M1178 718.5h1M174 719.5h2M1176 719.5h2M1098 720.5h3M1171 720.5h2M170 721.5h1M1104 721.5h3M1170 721.5h1M168 722.5h2M1110 722.5h3M1164 722.5h3M1116 723.5h3M1122 723.5h1M1158 723.5h3M1123 724.5h2M1128 724.5h3M1146 724.5h3M1152 724.5h3M163 725.5h2M1134 725.5h3M1140 725.5h3M162 726.5h1M157 728.5h2M156 729.5h1M152 730.5h1M150 731.5h2M144 733.5h3M139 734.5h2M132 735.5h3M138 735.5h1M126 736.5h3M120 737.5h3M114 738.5h3M109 739.5h2M108 740.5h1M103 741.5h2M102 742.5h1M96 743.5h3M91 744.5h2M84 745.5h3M90 745.5h1M78 746.5h3M72 747.5h3M66 748.5h3M60 749.5h3M0 750.5h3M55 750.5h2M6 751.5h3M49 751.5h2M54 751.5h1M12 752.5h3M18 752.5h3M24 752.5h3M30 752.5h3M36 752.5h3M42 752.5h3M48 752.5h1" fill="none" stroke="#ff0000" stroke-width="1" shape-rendering="crispEdges"/>
<g class="cr">
<line x1="0" y1="803.5" x2="1626" y2="803.5" stroke="#c0c0c0" stroke-width="1" stroke-dasharray="3 3" stroke-dashoffset="1"/>
<line x1="0" y1="850.5" x2="1626" y2="850.5" stroke="#c0c0c0" stroke-width="1" stroke-dasharray="3 3" stroke-dashoffset="1"/>
<line x1="0" y1="906.5" x2="1626" y2="906.5" stroke="#c0c0c0" stroke-width="1" stroke-dasharray="3 3" stroke-dashoffset="1"/>
</g>
<path d="M222 842.5h1M1358 842.5h1M1390 842.5h3M221 843.5h1M223 843.5h2M1357 843.5h1M1359 843.5h2M1388 843.5h2M1393 843.5h4M220 844.5h1M225 844.5h1M1356 844.5h1M1361 844.5h2M1387 844.5h1M1397 844.5h4M219 845.5h1M226 845.5h1M1261 845.5h3M1355 845.5h1M1363 845.5h1M1385 845.5h2M1401 845.5h4M218 846.5h1M227 846.5h2M1257 846.5h4M1264 846.5h3M1293 846.5h3M1354 846.5h1M1364 846.5h2M1383 846.5h2M1405 846.5h2M217 847.5h1M229 847.5h1M1213 847.5h3M1253 847.5h4M1267 847.5h4M1289 847.5h4M1296 847.5h3M1353 847.5h1M1366 847.5h1M1382 847.5h1M216 848.5h1M230 848.5h1M1211 848.5h2M1216 848.5h2M1249 848.5h4M1271 848.5h3M1285 848.5h4M1299 848.5h4M1352 848.5h1M1367 848.5h2M1380 848.5h2M215 849.5h1M231 849.5h2M1208 849.5h3M1218 849.5h2M1245 849.5h4M1274 849.5h3M1281 849.5h4M1303 849.5h3M1351 849.5h1M1369 849.5h2M1379 849.5h1M214 850.5h1M233 850.5h1M1205 850.5h3M1220 850.5h3M1242 850.5h3M1277 850.5h4M1306 850.5h3M1349 850.5h2M1371 850.5h1M1377 850.5h2M213 851.5h1M234 851.5h1M263 851.5h8M1203 851.5h2M1223 851.5h2M1239 851.5h3M1309 851.5h4M1348 851.5h1M1372 851.5h2M1375 851.5h2M212 852.5h1M235 852.5h2M251 852.5h12M271 852.5h1M1200 852.5h3M1225 852.5h2M1235 852.5h4M1313 852.5h4M1347 852.5h1M1374 852.5h1M211 853.5h1M237 853.5h1M243 853.5h8M272 853.5h2M1197 853.5h3M1227 853.5h2M1232 853.5h3M1317 853.5h4M1346 853.5h1M210 854.5h1M238 854.5h5M274 854.5h1M557 854.5h18M1194 854.5h3M1229 854.5h3M1321 854.5h4M1345 854.5h1M209 855.5h1M275 855.5h1M555 855.5h2M575 855.5h2M1191 855.5h3M1325 855.5h6M1344 855.5h1M208 856.5h1M276 856.5h1M553 856.5h2M577 856.5h1M875 856.5h5M1187 856.5h4M1331 856.5h8M1343 856.5h1M207 857.5h1M277 857.5h2M551 857.5h2M578 857.5h1M867 857.5h8M880 857.5h3M1184 857.5h3M1339 857.5h4M206 858.5h1M279 858.5h1M548 858.5h3M579 858.5h2M861 858.5h6M883 858.5h2M1181 858.5h3M205 859.5h1M280 859.5h1M546 859.5h2M581 859.5h1M858 859.5h3M885 859.5h3M1179 859.5h2M173 860.5h2M203 860.5h2M281 860.5h1M544 860.5h2M582 860.5h1M855 860.5h3M888 860.5h3M1177 860.5h2M171 861.5h2M175 861.5h2M202 861.5h1M282 861.5h1M541 861.5h3M583 861.5h2M851 861.5h4M891 861.5h2M1175 861.5h2M168 862.5h3M177 862.5h1M201 862.5h1M283 862.5h2M539 862.5h2M585 862.5h1M814 862.5h5M848 862.5h3M893 862.5h3M1172 862.5h3M165 863.5h3M178 863.5h2M200 863.5h1M285 863.5h1M537 863.5h2M586 863.5h1M813 863.5h1M819 863.5h8M839 863.5h9M896 863.5h2M1170 863.5h2M93 864.5h2M163 864.5h2M180 864.5h1M199 864.5h1M286 864.5h5M535 864.5h2M587 864.5h2M812 864.5h1M827 864.5h12M898 864.5h2M1168 864.5h2M89 865.5h4M95 865.5h2M160 865.5h3M181 865.5h2M197 865.5h2M291 865.5h8M311 865.5h16M532 865.5h3M589 865.5h1M812 865.5h1M900 865.5h2M1166 865.5h2M85 866.5h4M97 866.5h2M156 866.5h4M183 866.5h1M196 866.5h1M299 866.5h12M327 866.5h12M530 866.5h2M590 866.5h5M619 866.5h12M811 866.5h1M902 866.5h2M1165 866.5h1M81 867.5h4M99 867.5h2M151 867.5h5M184 867.5h1M195 867.5h1M339 867.5h8M528 867.5h2M595 867.5h8M611 867.5h8M631 867.5h10M810 867.5h1M904 867.5h2M1164 867.5h1M75 868.5h6M101 868.5h2M145 868.5h6M185 868.5h2M194 868.5h1M347 868.5h12M525 868.5h3M603 868.5h8M641 868.5h6M809 868.5h1M906 868.5h2M1163 868.5h1M67 869.5h8M103 869.5h1M141 869.5h4M187 869.5h1M192 869.5h2M359 869.5h9M521 869.5h4M647 869.5h5M808 869.5h1M908 869.5h2M1162 869.5h1M60 870.5h7M104 870.5h2M139 870.5h2M188 870.5h2M191 870.5h1M368 870.5h2M517 870.5h4M652 870.5h4M699 870.5h5M808 870.5h1M910 870.5h2M1161 870.5h1M55 871.5h5M106 871.5h2M137 871.5h2M190 871.5h1M370 871.5h2M513 871.5h4M656 871.5h3M691 871.5h8M704 871.5h2M807 871.5h1M912 871.5h2M1160 871.5h1M49 872.5h6M108 872.5h2M135 872.5h2M372 872.5h3M509 872.5h4M659 872.5h4M684 872.5h7M706 872.5h2M806 872.5h1M914 872.5h2M1159 872.5h1M46 873.5h3M110 873.5h3M132 873.5h3M375 873.5h2M507 873.5h2M663 873.5h3M679 873.5h5M708 873.5h2M805 873.5h1M916 873.5h2M1157 873.5h2M45 874.5h1M113 874.5h6M130 874.5h2M377 874.5h2M504 874.5h3M666 874.5h3M673 874.5h6M710 874.5h2M804 874.5h1M918 874.5h2M1156 874.5h1M43 875.5h2M119 875.5h5M128 875.5h2M379 875.5h2M391 875.5h9M477 875.5h4M501 875.5h3M669 875.5h4M712 875.5h2M732 875.5h19M804 875.5h1M920 875.5h2M1155 875.5h1M42 876.5h1M124 876.5h4M381 876.5h10M400 876.5h3M475 876.5h2M481 876.5h6M499 876.5h2M714 876.5h2M727 876.5h5M751 876.5h2M782 876.5h2M803 876.5h1M922 876.5h2M1154 876.5h1M41 877.5h1M403 877.5h2M473 877.5h2M487 877.5h5M496 877.5h3M716 877.5h2M721 877.5h6M753 877.5h2M780 877.5h2M784 877.5h3M802 877.5h1M924 877.5h2M1153 877.5h1M39 878.5h2M405 878.5h3M471 878.5h2M492 878.5h4M718 878.5h3M755 878.5h1M778 878.5h2M787 878.5h2M801 878.5h1M926 878.5h5M1053 878.5h4M1099 878.5h40M1152 878.5h1M38 879.5h1M408 879.5h3M468 879.5h3M756 879.5h2M776 879.5h2M789 879.5h3M800 879.5h1M931 879.5h8M1051 879.5h2M1057 879.5h4M1091 879.5h8M1139 879.5h8M1151 879.5h1M37 880.5h1M411 880.5h2M466 880.5h2M758 880.5h1M775 880.5h1M792 880.5h3M800 880.5h1M939 880.5h5M990 880.5h5M1048 880.5h3M1061 880.5h4M1083 880.5h8M1147 880.5h4M35 881.5h2M413 881.5h10M464 881.5h2M759 881.5h2M773 881.5h2M795 881.5h2M799 881.5h1M944 881.5h2M989 881.5h1M995 881.5h8M1045 881.5h3M1065 881.5h4M1075 881.5h8M34 882.5h1M423 882.5h41M761 882.5h2M771 882.5h2M797 882.5h2M946 882.5h2M988 882.5h1M1003 882.5h8M1043 882.5h2M1069 882.5h6M33 883.5h1M763 883.5h1M769 883.5h2M948 883.5h2M987 883.5h1M1011 883.5h8M1040 883.5h3M0 884.5h1M31 884.5h2M764 884.5h2M767 884.5h2M950 884.5h2M986 884.5h1M1019 884.5h21M1 885.5h2M30 885.5h1M766 885.5h1M952 885.5h2M985 885.5h1M3 886.5h1M28 886.5h2M954 886.5h2M984 886.5h1M4 887.5h2M26 887.5h2M956 887.5h2M983 887.5h1M6 888.5h2M24 888.5h2M958 888.5h2M982 888.5h1M8 889.5h1M22 889.5h2M960 889.5h2M981 889.5h1M9 890.5h2M20 890.5h2M962 890.5h2M980 890.5h1M11 891.5h1M18 891.5h2M964 891.5h2M979 891.5h1M12 892.5h2M16 892.5h2M966 892.5h2M978 892.5h1M14 893.5h2M968 893.5h2M977 893.5h1M970 894.5h2M976 894.5h1M972 895.5h2M975 895.5h1M974 896.5h1" fill="none" stroke="#1e90ff" stroke-width="1" shape-rendering="crispEdges"/>
<g class="cr">
<rect x="1627" y="34" width="2" height="1" fill="#000"/>
<rect x="1627" y="67" width="2" height="1" fill="#000"/>
<rect x="1627" y="100" width="2" height="1" fill="#000"/>
<rect x="1627" y="133" width="2" height="1" fill="#000"/>
<rect x="1627" y="166" width="2" height="1" fill="#000"/>
<rect x="1627" y="199" width="2" height="1" fill="#000"/>
<rect x="1627" y="232" width="2" height="1" fill="#000"/>
<rect x="1627" y="265" width="2" height="1" fill="#000"/>
<rect x="1627" y="298" width="2" height="1" fill="#000"/>
<rect x="1627" y="331" width="2" height="1" fill="#000"/>
<rect x="1627" y="364" width="2" height="1" fill="#000"/>
<rect x="1627" y="397" width="2" height="1" fill="#000"/>
<rect x="1627" y="430" width="2" height="1" fill="#000"/>
<rect x="1627" y="463" width="2" height="1" fill="#000"/>
<rect x="1627" y="496" width="2" height="1" fill="#000"/>
<rect x="1627" y="529" width="2" height="1" fill="#000"/>
<rect x="1627" y="562" width="2" height="1" fill="#000"/>
<rect x="1627" y="569" width="2" height="1" fill="#000"/>
<rect x="1627" y="578" width="2" height="1" fill="#000"/>
<rect x="1627" y="767" width="2" height="1" fill="#000"/>
<rect x="1627" y="771" width="2" height="1" fill="#000"/>
<rect x="1627" y="929" width="2" height="1" fill="#000"/>
<rect x="-2" y="931" width="1" height="4" fill="#000"/>
<rect x="62" y="931" width="1" height="4" fill="#000"/>
<rect x="126" y="931" width="1" height="4" fill="#000"/>
<rect x="190" y="931" width="1" height="4" fill="#000"/>
<rect x="254" y="931" width="1" height="4" fill="#000"/>
<rect x="318" y="931" width="1" height="4" fill="#000"/>
<rect x="382" y="931" width="1" height="4" fill="#000"/>
<rect x="446" y="931" width="1" height="4" fill="#000"/>
<rect x="510" y="931" width="1" height="4" fill="#000"/>
<rect x="574" y="931" width="1" height="4" fill="#000"/>
<rect x="638" y="931" width="1" height="4" fill="#000"/>
<rect x="702" y="931" width="1" height="4" fill="#000"/>
<rect x="766" y="931" width="1" height="4" fill="#000"/>
<rect x="830" y="931" width="1" height="4" fill="#000"/>
<rect x="894" y="931" width="1" height="4" fill="#000"/>
<rect x="958" y="931" width="1" height="4" fill="#000"/>
<rect x="1022" y="931" width="1" height="4" fill="#000"/>
<rect x="1086" y="931" width="1" height="4" fill="#000"/>
<rect x="1150" y="931" width="1" height="4" fill="#000"/>
<rect x="1214" y="931" width="1" height="4" fill="#000"/>
<rect x="1278" y="931" width="1" height="4" fill="#000"/>
<rect x="1342" y="931" width="1" height="4" fill="#000"/>
<rect x="1406" y="931" width="1" height="4" fill="#000"/>
</g>
<g class="ax">
<text x="1632" y="38" textLength="33" lengthAdjust="spacingAndGlyphs">141.950</text>
<text x="1632" y="71" textLength="33" lengthAdjust="spacingAndGlyphs">141.610</text>
<text x="1632" y="104" textLength="33" lengthAdjust="spacingAndGlyphs">141.260</text>
<text x="1632" y="137" textLength="33" lengthAdjust="spacingAndGlyphs">140.920</text>
<text x="1632" y="170" textLength="33" lengthAdjust="spacingAndGlyphs">140.570</text>
<text x="1632" y="203" textLength="33" lengthAdjust="spacingAndGlyphs">140.230</text>
<text x="1632" y="236" textLength="33" lengthAdjust="spacingAndGlyphs">139.880</text>
<text x="1632" y="269" textLength="33" lengthAdjust="spacingAndGlyphs">139.540</text>
<text x="1632" y="302" textLength="33" lengthAdjust="spacingAndGlyphs">139.190</text>
<text x="1632" y="335" textLength="33" lengthAdjust="spacingAndGlyphs">138.850</text>
<text x="1632" y="368" textLength="33" lengthAdjust="spacingAndGlyphs">138.510</text>
<text x="1632" y="401" textLength="33" lengthAdjust="spacingAndGlyphs">138.160</text>
<text x="1632" y="434" textLength="33" lengthAdjust="spacingAndGlyphs">137.820</text>
<text x="1632" y="467" textLength="33" lengthAdjust="spacingAndGlyphs">137.470</text>
<text x="1632" y="500" textLength="33" lengthAdjust="spacingAndGlyphs">137.130</text>
<text x="1632" y="533" textLength="33" lengthAdjust="spacingAndGlyphs">136.780</text>
<text x="1632" y="566" textLength="33" lengthAdjust="spacingAndGlyphs">136.440</text>
</g>
<g class="cr">
<rect x="1621" y="352" width="5" height="5" fill="#ff4500"/><rect x="1622" y="353" width="3" height="3" fill="#fff"/>
<rect x="0" y="352" width="3" height="5" fill="#ff4500"/><rect x="0" y="353" width="2" height="3" fill="#fff"/>
<rect x="1621" y="388" width="5" height="5" fill="#ff0000"/><rect x="1622" y="389" width="3" height="3" fill="#fff"/>
<rect x="0" y="388" width="3" height="5" fill="#ff0000"/><rect x="0" y="389" width="2" height="3" fill="#fff"/>
<rect x="1621" y="425" width="5" height="5" fill="#32cd32"/><rect x="1622" y="426" width="3" height="3" fill="#fff"/>
<rect x="0" y="425" width="3" height="5" fill="#32cd32"/><rect x="0" y="426" width="2" height="3" fill="#fff"/>
<rect x="1621" y="504" width="5" height="5" fill="#0000ff"/><rect x="1622" y="505" width="3" height="3" fill="#fff"/>
<rect x="0" y="504" width="3" height="5" fill="#0000ff"/><rect x="0" y="505" width="2" height="3" fill="#fff"/>
<rect x="1621" y="556" width="5" height="5" fill="#0000ff"/><rect x="1622" y="557" width="3" height="3" fill="#fff"/>
<rect x="0" y="556" width="3" height="5" fill="#0000ff"/><rect x="0" y="557" width="2" height="3" fill="#fff"/>
<rect x="1628" y="348" width="41" height="11" fill="#ff4500"/>
<rect x="1628" y="384" width="41" height="11" fill="#ff0000"/>
<rect x="1628" y="421" width="41" height="11" fill="#32cd32"/>
<rect x="1628" y="447" width="41" height="11" fill="#000000"/>
<rect x="1628" y="500" width="41" height="11" fill="#0000ff"/>
<rect x="1628" y="552" width="41" height="11" fill="#0000ff"/>
</g>
<g class="ax" style="fill:#fff">
<text x="1632.6" y="356.6" textLength="33" lengthAdjust="spacingAndGlyphs">138.612</text>
<text x="1632.6" y="392.6" textLength="33" lengthAdjust="spacingAndGlyphs">138.235</text>
<text x="1632.6" y="429.6" textLength="33" lengthAdjust="spacingAndGlyphs">137.849</text>
<text x="1632.6" y="455.6" textLength="33" lengthAdjust="spacingAndGlyphs">137.583</text>
<text x="1632.6" y="508.6" textLength="33" lengthAdjust="spacingAndGlyphs">137.024</text>
<text x="1632.6" y="560.6" textLength="33" lengthAdjust="spacingAndGlyphs">136.478</text>
</g>
<g class="ax">
<text x="1630.6" y="577.7" textLength="28" lengthAdjust="spacingAndGlyphs">0.0332</text>
<text x="1630.6" y="582.2" textLength="18" lengthAdjust="spacingAndGlyphs">0.00</text>
<text x="1630.4" y="765" textLength="30.5" lengthAdjust="spacingAndGlyphs">-0.6666</text>
<text x="1630.6" y="781" textLength="15" lengthAdjust="spacingAndGlyphs">100</text>
<text x="1629.2" y="807" textLength="10" lengthAdjust="spacingAndGlyphs">80</text>
<text x="1629.2" y="854" textLength="10" lengthAdjust="spacingAndGlyphs">50</text>
<text x="1629.2" y="910" textLength="10" lengthAdjust="spacingAndGlyphs">15</text>
<text x="1630.4" y="927" textLength="5" lengthAdjust="spacingAndGlyphs">0</text>
<text x="-2.5" y="943" textLength="54" lengthAdjust="spacingAndGlyphs">17 May 2019</text>
<text x="61.5" y="943" textLength="57.3" lengthAdjust="spacingAndGlyphs">19 May 23:00</text>
<text x="125.5" y="943" textLength="57.3" lengthAdjust="spacingAndGlyphs">20 May 12:00</text>
<text x="189.5" y="943" textLength="57.3" lengthAdjust="spacingAndGlyphs">21 May 04:00</text>
<text x="253.5" y="943" textLength="57.3" lengthAdjust="spacingAndGlyphs">21 May 20:00</text>
<text x="317.5" y="943" textLength="57.3" lengthAdjust="spacingAndGlyphs">22 May 12:00</text>
<text x="381.5" y="943" textLength="57.3" lengthAdjust="spacingAndGlyphs">23 May 04:00</text>
<text x="445.5" y="943" textLength="57.3" lengthAdjust="spacingAndGlyphs">23 May 20:00</text>
<text x="509.5" y="943" textLength="57.3" lengthAdjust="spacingAndGlyphs">24 May 12:00</text>
<text x="573.5" y="943" textLength="57.3" lengthAdjust="spacingAndGlyphs">27 May 04:00</text>
<text x="637.5" y="943" textLength="57.3" lengthAdjust="spacingAndGlyphs">27 May 20:00</text>
<text x="701.5" y="943" textLength="57.3" lengthAdjust="spacingAndGlyphs">28 May 12:00</text>
<text x="765.5" y="943" textLength="57.3" lengthAdjust="spacingAndGlyphs">29 May 04:00</text>
<text x="829.5" y="943" textLength="57.3" lengthAdjust="spacingAndGlyphs">29 May 20:00</text>
<text x="893.5" y="943" textLength="57.3" lengthAdjust="spacingAndGlyphs">30 May 12:00</text>
<text x="957.5" y="943" textLength="57.3" lengthAdjust="spacingAndGlyphs">31 May 04:00</text>
<text x="1021.5" y="943" textLength="47.5" lengthAdjust="spacingAndGlyphs">2 Jun 23:00</text>
<text x="1085.5" y="943" textLength="47.5" lengthAdjust="spacingAndGlyphs">3 Jun 12:00</text>
<text x="1149.5" y="943" textLength="47.5" lengthAdjust="spacingAndGlyphs">4 Jun 04:00</text>
<text x="1213.5" y="943" textLength="47.5" lengthAdjust="spacingAndGlyphs">4 Jun 20:00</text>
<text x="1277.5" y="943" textLength="47.5" lengthAdjust="spacingAndGlyphs">5 Jun 12:00</text>
<text x="1341.5" y="943" textLength="47.5" lengthAdjust="spacingAndGlyphs">6 Jun 04:00</text>
<text x="1405.5" y="943" textLength="47.5" lengthAdjust="spacingAndGlyphs">6 Jun 20:00</text>
<text x="13" y="41.6" textLength="200" lengthAdjust="spacingAndGlyphs">GBPJPY-,H4  137.708 137.726 137.474 137.583</text>
<text x="2.5" y="580" textLength="130" lengthAdjust="spacingAndGlyphs">MACD(12,26,9) 0.0014 -0.0599</text>
<text x="2.5" y="783" textLength="67" lengthAdjust="spacingAndGlyphs">RSI(14) 52.7751</text>
</g>
<path d="M1 41.5 L4.5 37 L8 41.5 Z" fill="#000"/>
<path d="M1441 31 L1450 31 L1445.5 36.2 Z" fill="#c0c0c0"/>
<g class="cr">
<rect x="1366" y="422" width="47" height="9" fill="#00f000"/>
<rect x="1423" y="427" width="8" height="1" fill="#ff0000"/>
<rect x="1430" y="425" width="3" height="4" fill="#ff0000"/><rect x="1431" y="426" width="1" height="2" fill="#fff"/>
<rect x="1433" y="415" width="74" height="25" fill="#ff0000"/><rect x="1434" y="416" width="72" height="23" fill="#fff"/>
</g>
<text x="1435.6" y="436" font-size="22" fill="#ff0000" textLength="69.6" lengthAdjust="spacingAndGlyphs">137.849</text>
<g><text transform="translate(1186.6 440.6) skewX(-7)" x="0 32 64 96 128" y="0" font-size="30.6" font-weight="bold" fill="#0d3306" stroke="#0d3306" stroke-width="0.5" style="font-family:'Liberation Serif','Noto Serif CJK SC',serif">多空转折点</text></g>
<g><text transform="translate(1185.3 440.2) skewX(-7)" x="0 32 64 96 128" y="0" font-size="30.6" font-weight="bold" fill="#00ff00" stroke="#00ff00" stroke-width="0.18" style="font-family:'Liberation Serif','Noto Serif CJK SC',serif">多空转折点</text></g>
<g class="cr">
<rect x="1" y="48" width="219" height="66" fill="#fff"/>
<path d="M1 50 H53 V74 H110 V114 H1 Z" fill="url(#gb)"/>
<path d="M168 50 H220 V114 H112 V74 H168 Z" fill="url(#gb)"/>
<path d="M1.5 50.5 H52.5 V74.5 H109.5 V113.5 H1.5 Z" fill="none" stroke="#1a1ac8" stroke-width="1"/>
<path d="M168.5 50.5 H219.5 V113.5 H112.5 V74.5 H168.5 Z" fill="none" stroke="#1a1ac8" stroke-width="1"/>
<rect x="5" y="73" width="44" height="1" fill="#0c0c98"/><rect x="5" y="74" width="44" height="1" fill="#8c8cf2"/>
<rect x="172" y="73" width="44" height="1" fill="#0c0c98"/><rect x="172" y="74" width="44" height="1" fill="#8c8cf2"/>
<rect x="55" y="50" width="111" height="22" fill="#b4b4b4"/>
<rect x="56" y="51" width="20" height="20" fill="#e9e9e9"/>
<rect x="77" y="51" width="67" height="20" fill="#fff"/>
<rect x="145" y="51" width="20" height="20" fill="#e9e9e9"/>
</g>
<path d="M63 59 H68.6 L65.8 62.2 Z" fill="#000"/>
<path d="M152.2 62.2 H157.8 L155 59 Z" fill="#000"/>
<text x="140.5" y="65.1" font-size="12.4" fill="#1a1a1a" text-anchor="end" textLength="23.5" lengthAdjust="spacingAndGlyphs">1.00</text>
<g fill="#fff">
<text x="13.7" y="66" font-size="11.9" textLength="25.4" lengthAdjust="spacingAndGlyphs">SELL</text>
<text x="181.5" y="66" font-size="11.9" textLength="23.2" lengthAdjust="spacingAndGlyphs">BUY</text>
<text x="24.8" y="104.8" font-size="11.6" font-weight="bold" textLength="20" lengthAdjust="spacingAndGlyphs">137</text>
<text x="49.6" y="105" font-size="32.6" textLength="34" lengthAdjust="spacingAndGlyphs">58</text>
<text x="88.6" y="88.7" font-size="11.8" font-weight="bold">3</text>
<text x="134.7" y="104.8" font-size="11.6" font-weight="bold" textLength="20" lengthAdjust="spacingAndGlyphs">137</text>
<text x="159.4" y="105" font-size="32.6" textLength="34.8" lengthAdjust="spacingAndGlyphs">62</text>
<text x="199.8" y="88.7" font-size="11.8" font-weight="bold">6</text>
</g>
<g class="cr">
<rect x="0" y="0" width="1673" height="28" fill="#f0f0f0"/>
<rect x="0" y="0" width="1673" height="1" fill="#fbfbfb"/>
<rect x="0" y="25" width="1673" height="1" fill="#f4f4f4"/>
<rect x="0" y="26" width="1673" height="1" fill="#a0a0a0"/>
<rect x="0" y="27" width="1673" height="1" fill="#696969"/>
<rect x="0" y="28" width="1673" height="2" fill="#fff"/>
<rect x="223" y="1" width="1" height="25" fill="#a0a0a0"/><rect x="224" y="1" width="1" height="25" fill="#fff"/>
<rect x="591" y="1" width="1" height="25" fill="#a0a0a0"/><rect x="592" y="1" width="1" height="25" fill="#fff"/>
<rect x="897" y="1" width="1" height="25" fill="#a0a0a0"/><rect x="898" y="1" width="1" height="25" fill="#fff"/>
<rect x="1158" y="1" width="1" height="25" fill="#a0a0a0"/><rect x="1159" y="1" width="1" height="25" fill="#fff"/>
<rect x="318" y="3" width="1" height="21" fill="#a0a0a0"/>
<rect x="408" y="3" width="1" height="21" fill="#a0a0a0"/>
<rect x="470" y="3" width="1" height="21" fill="#a0a0a0"/>
<rect x="658" y="3" width="1" height="21" fill="#a0a0a0"/>
<rect x="227" y="4" width="3" height="1" fill="#a8a8a8"/>
<rect x="227" y="6" width="3" height="1" fill="#a8a8a8"/>
<rect x="227" y="8" width="3" height="1" fill="#a8a8a8"/>
<rect x="227" y="10" width="3" height="1" fill="#a8a8a8"/>
<rect x="227" y="12" width="3" height="1" fill="#a8a8a8"/>
<rect x="227" y="14" width="3" height="1" fill="#a8a8a8"/>
<rect x="227" y="16" width="3" height="1" fill="#a8a8a8"/>
<rect x="227" y="18" width="3" height="1" fill="#a8a8a8"/>
<rect x="227" y="20" width="3" height="1" fill="#a8a8a8"/>
<rect x="227" y="22" width="3" height="1" fill="#a8a8a8"/>
<rect x="595" y="4" width="3" height="1" fill="#a8a8a8"/>
<rect x="595" y="6" width="3" height="1" fill="#a8a8a8"/>
<rect x="595" y="8" width="3" height="1" fill="#a8a8a8"/>
<rect x="595" y="10" width="3" height="1" fill="#a8a8a8"/>
<rect x="595" y="12" width="3" height="1" fill="#a8a8a8"/>
<rect x="595" y="14" width="3" height="1" fill="#a8a8a8"/>
<rect x="595" y="16" width="3" height="1" fill="#a8a8a8"/>
<rect x="595" y="18" width="3" height="1" fill="#a8a8a8"/>
<rect x="595" y="20" width="3" height="1" fill="#a8a8a8"/>
<rect x="595" y="22" width="3" height="1" fill="#a8a8a8"/>
<rect x="901" y="4" width="3" height="1" fill="#a8a8a8"/>
<rect x="901" y="6" width="3" height="1" fill="#a8a8a8"/>
<rect x="901" y="8" width="3" height="1" fill="#a8a8a8"/>
<rect x="901" y="10" width="3" height="1" fill="#a8a8a8"/>
<rect x="901" y="12" width="3" height="1" fill="#a8a8a8"/>
<rect x="901" y="14" width="3" height="1" fill="#a8a8a8"/>
<rect x="901" y="16" width="3" height="1" fill="#a8a8a8"/>
<rect x="901" y="18" width="3" height="1" fill="#a8a8a8"/>
<rect x="901" y="20" width="3" height="1" fill="#a8a8a8"/>
<rect x="901" y="22" width="3" height="1" fill="#a8a8a8"/>
<rect x="261" y="2" width="25" height="22" fill="url(#chk)"/>
<rect x="261" y="2" width="25" height="1" fill="#a0a0a0"/><rect x="261" y="2" width="1" height="22" fill="#a0a0a0"/>
<rect x="261" y="24" width="26" height="1" fill="#fff"/><rect x="286" y="2" width="1" height="22" fill="#fff"/>
<rect x="413" y="2" width="25" height="22" fill="url(#chk)"/>
<rect x="413" y="2" width="25" height="1" fill="#a0a0a0"/><rect x="413" y="2" width="1" height="22" fill="#a0a0a0"/>
<rect x="413" y="24" width="26" height="1" fill="#fff"/><rect x="438" y="2" width="1" height="22" fill="#fff"/>
<rect x="441" y="2" width="25" height="22" fill="url(#chk)"/>
<rect x="441" y="2" width="25" height="1" fill="#a0a0a0"/><rect x="441" y="2" width="1" height="22" fill="#a0a0a0"/>
<rect x="441" y="24" width="26" height="1" fill="#fff"/><rect x="466" y="2" width="1" height="22" fill="#fff"/>
<rect x="601" y="2" width="25" height="22" fill="url(#chk)"/>
<rect x="601" y="2" width="25" height="1" fill="#a0a0a0"/><rect x="601" y="2" width="1" height="22" fill="#a0a0a0"/>
<rect x="601" y="24" width="26" height="1" fill="#fff"/><rect x="626" y="2" width="1" height="22" fill="#fff"/>
<rect x="1047" y="2" width="25" height="22" fill="url(#chk)"/>
<rect x="1047" y="2" width="25" height="1" fill="#a0a0a0"/><rect x="1047" y="2" width="1" height="22" fill="#a0a0a0"/>
<rect x="1047" y="24" width="26" height="1" fill="#fff"/><rect x="1072" y="2" width="1" height="22" fill="#fff"/>
</g>
<path d="M-2 6.5 H6 L8.5 9 V19.5 H-2 Z" fill="#fff" stroke="#8a8a8a" stroke-width="1"/>
<path d="M6 6.5 V9 H8.5" fill="none" stroke="#8a8a8a" stroke-width="0.8"/>
<path d="M0 9.5 H2 M0 12.5 H4 M0 14.5 H4" stroke="#9a9a9a" stroke-width="1"/>
<path d="M5.2 12.2 h3.6 v4 h4 v3.6 h-4 v4 h-3.6 v-4 h-4 v-3.6 h4 z" fill="#14d63a" stroke="#0f8a1c" stroke-width="1" stroke-linejoin="round"/><path d="M6.2 13.399999999999999 h1.4 v4 h-5 v1.2" fill="none" stroke="#7df58f" stroke-width="0.8"/>
<text x="15.8 27.8 39.8" y="17" font-size="12.5" fill="#000" style="font-family:'Liberation Sans','Noto Sans CJK SC',sans-serif">新订单</text>
<path d="M69.7 7 L79.4 13 L79.7 16 L72 21.6 L64.2 16 L68 11.7 Z" fill="#e9b91c" stroke="#a36d0a" stroke-width="1" stroke-linejoin="round"/>
<path d="M70 8.6 L78 13.6 L72.2 18.6 L66.2 15 Z" fill="#f6d437"/>
<path d="M65.2 16.6 L72 20.4 L79 15.4" fill="none" stroke="#f3e08a" stroke-width="0.9"/>
<path d="M94 7 L97.5 6 H104 L104.8 8 V16 H94 Z" fill="#1e96f2"/>
<path d="M94.4 7.2 L97.4 9.2 V16" fill="none" stroke="#c8e6ff" stroke-width="0.8"/>
<path d="M99 10.8 H103.4" stroke="#d8eeff" stroke-width="1.2"/>
<path d="M94.5 21.4 C91.5 21.4 91.5 17.6 94.6 17.6 C94.8 15.4 98 15 98.8 16.6 C100 14 103.6 14.4 103.8 17 C107.8 16 108.6 21.4 105 21.4 Z" fill="#e6ebf5" stroke="#4a68a8" stroke-width="0.9"/>
<path d="M94.6 18.6 C96 16.6 98 16.6 99 17.8 C100.6 15.6 103 16 103.4 18" fill="none" stroke="#fff" stroke-width="0.9"/>
<defs><radialGradient id="sg" cx="0.5" cy="0.5" r="0.5"><stop offset="0" stop-color="#c8e0c8"/><stop offset="1" stop-color="#5aa85a"/></radialGradient></defs>
<path d="M128 14 L128.6 21.8 A8 8 0 0 0 134.6 9.4 Z" fill="url(#sg)" opacity="0.85"/>
<circle cx="128" cy="14" r="7.6" fill="none" stroke="#5a82d8" stroke-width="1" opacity="0.75" stroke-dasharray="20 4"/>
<circle cx="128" cy="14" r="4.8" fill="none" stroke="#5a82d8" stroke-width="1" opacity="0.7"/>
<circle cx="128" cy="13.6" r="2" fill="#2a55d0"/>
<path d="M128.6 14 V21.8" stroke="#12a012" stroke-width="1.3"/>
<path d="M147.2 13 L162.8 12.4 L156 21.6 Z" fill="#ffe766" stroke="#cfa012" stroke-width="0.9" stroke-linejoin="round"/>
<ellipse cx="155" cy="10.6" rx="8" ry="2.8" fill="#5ab4e4" stroke="#2488b8" stroke-width="0.8"/>
<ellipse cx="155" cy="8.6" rx="3.8" ry="2.8" fill="#6cc0ea" stroke="#2488b8" stroke-width="0.7"/>
<circle cx="159.4" cy="17.8" r="4" fill="#e62a08" stroke="#b01c04" stroke-width="0.6"/>
<rect x="158" y="16.4" width="2.8" height="2.8" fill="#fff"/>
<text x="167.4 179.3 191.2 203.1" y="17.1" font-size="12.5" fill="#000" style="font-family:'Liberation Sans','Noto Sans CJK SC',sans-serif">自动交易</text>
<path d="M241.5 8.5 V22 M239 19.5 H252" stroke="#4d4d4d" stroke-width="1.1" fill="none"/><path d="M240 10 L241.5 8 L243 10 M251 18 L253 19.5 L251 21" stroke="#4d4d4d" stroke-width="1.1" fill="none"/>
<path d="M247.6 9.5 V17 M247.6 10.4 H249.8 M245.4 16.4 H247.6" stroke="#138a13" stroke-width="1.3" fill="none"/>
<path d="M269.5 8.5 V22 M267 19.5 H280" stroke="#4d4d4d" stroke-width="1.1" fill="none"/><path d="M268 10 L269.5 8 L271 10 M279 18 L281 19.5 L279 21" stroke="#4d4d4d" stroke-width="1.1" fill="none"/>
<path d="M275.4 6.2 V17.6" stroke="#138a13" stroke-width="1.1"/><rect x="273.4" y="8.4" width="4.2" height="7.2" fill="#3fe052" stroke="#138a13" stroke-width="0.9"/>
<path d="M297.5 8.5 V22 M295 19.5 H308" stroke="#4d4d4d" stroke-width="1.1" fill="none"/><path d="M296 10 L297.5 8 L299 10 M307 18 L309 19.5 L307 21" stroke="#4d4d4d" stroke-width="1.1" fill="none"/>
<path d="M296.4 16.6 C299.5 15.4 300.5 10.6 302.6 11.2 C304.6 11.8 305.6 14.2 307.6 15" stroke="#2a962a" stroke-width="1.2" fill="none"/>
<path d="M337 16.6 L342.4 20.8" stroke="#b8860b" stroke-width="3" stroke-linecap="round"/><path d="M337.2 16.4 L342 20.2" stroke="#ffe27a" stroke-width="1.2" stroke-linecap="round"/><circle cx="333" cy="12" r="5.6" fill="#d9eefc" stroke="#3b82d6" stroke-width="1.2"/><path d="M330 12.1 H336" stroke="#4a86b4" stroke-width="1.6"/><path d="M333 9.1 V15.1" stroke="#4a86b4" stroke-width="1.6"/>
<path d="M365 16.6 L370.4 20.8" stroke="#b8860b" stroke-width="3" stroke-linecap="round"/><path d="M365.2 16.4 L370 20.2" stroke="#ffe27a" stroke-width="1.2" stroke-linecap="round"/><circle cx="361" cy="12" r="5.6" fill="#d9eefc" stroke="#3b82d6" stroke-width="1.2"/><path d="M358 12.1 H364" stroke="#4a86b4" stroke-width="1.6"/>
<rect x="383" y="6" width="8" height="7.6" fill="#3f9e1c"/><path d="M384.4 9 H389.6 V12.4 H384.4 Z" fill="#fff" opacity="0.92"/><path d="M385.4 10.4 H388.6" stroke="#3f9e1c" stroke-width="0.8" opacity="0.6"/>
<rect x="391.2" y="6" width="8" height="7.6" fill="#2458d6"/><path d="M392.59999999999997 9 H397.8 V12.4 H392.59999999999997 Z" fill="#fff" opacity="0.92"/><path d="M393.59999999999997 10.4 H396.8" stroke="#2458d6" stroke-width="0.8" opacity="0.6"/>
<rect x="383" y="14" width="8" height="7.6" fill="#2458d6"/><path d="M384.4 17 H389.6 V20.4 H384.4 Z" fill="#fff" opacity="0.92"/><path d="M385.4 18.4 H388.6" stroke="#2458d6" stroke-width="0.8" opacity="0.6"/>
<rect x="391.2" y="14" width="8" height="7.6" fill="#3f9e1c"/><path d="M392.59999999999997 17 H397.8 V20.4 H392.59999999999997 Z" fill="#fff" opacity="0.92"/><path d="M393.59999999999997 18.4 H396.8" stroke="#3f9e1c" stroke-width="0.8" opacity="0.6"/>
<path d="M421.5 8.5 V22 M419 19.5 H432" stroke="#4d4d4d" stroke-width="1.1" fill="none"/><path d="M420 10 L421.5 8 L423 10 M431 18 L433 19.5 L431 21" stroke="#4d4d4d" stroke-width="1.1" fill="none"/>
<path d="M426.2 10 L430.2 13.5 L426.2 17 Z" fill="#7fe07f" stroke="#14a014" stroke-width="1"/>
<path d="M449.5 8.5 V22 M447 19.5 H460" stroke="#4d4d4d" stroke-width="1.1" fill="none"/><path d="M448 10 L449.5 8 L451 10 M459 18 L461 19.5 L459 21" stroke="#4d4d4d" stroke-width="1.1" fill="none"/>
<path d="M455.6 8.2 V17.6" stroke="#1a6fb4" stroke-width="1.3"/>
<path d="M457 13.3 H461.2 M459.6 11 L457 13.3 L459.6 15.6" stroke="#e0400a" stroke-width="1.3" fill="none"/>
<path d="M480.5 7 H488.5 L491.5 10 V19.5 H480.5 Z" fill="#fbfbfb" stroke="#8a8a8a" stroke-width="1"/>
<path d="M488.5 7 V10 H491.5" fill="none" stroke="#8a8a8a" stroke-width="0.8"/>
<path d="M484.6 10.6 C482.6 10.6 483.4 14.2 482.4 14.2" fill="none" stroke="#6a6a5a" stroke-width="1"/>
<path d="M488.2 12.2 h3.6 v4 h4 v3.6 h-4 v4 h-3.6 v-4 h-4 v-3.6 h4 z" fill="#14d63a" stroke="#0f8a1c" stroke-width="1" stroke-linejoin="round"/><path d="M489.2 13.399999999999999 h1.4 v4 h-5 v1.2" fill="none" stroke="#7df58f" stroke-width="0.8"/>
<path d="M501.8 12.8 h5.6 l-2.8 3.2 z" fill="#000"/>
<circle cx="526" cy="14" r="6.6" fill="#f2f8ff" stroke="#1a66d6" stroke-width="2.6"/>
<circle cx="526" cy="14" r="7.9" fill="none" stroke="#0c3f9a" stroke-width="0.6" opacity="0.7"/>
<circle cx="526" cy="14" r="4.6" fill="none" stroke="#9ab0c8" stroke-width="0.8" stroke-dasharray="0.6 1.8"/><path d="M525.6 10.6 V14.2 L528.4 15" stroke="#222" stroke-width="1.1" fill="none"/>
<path d="M540.8 12.8 h5.6 l-2.8 3.2 z" fill="#000"/>
<rect x="557.5" y="7.2" width="15.4" height="13.8" fill="#fff" stroke="#4a86d8" stroke-width="1.1"/>
<rect x="558" y="7.6" width="14.4" height="2" fill="#5a98e6"/>
<path d="M558 14.8 H572.4" stroke="#6aa0e0" stroke-width="0.8"/>
<path d="M559.6 13.2 H561.2 L562.4 12 H563.8 L565 12.8 H566.6 L567.8 11.6 H570.6" stroke="#9a2412" stroke-width="1.2" fill="none"/>
<path d="M560 18.6 H561.6 L562.8 17.6 H564.2 L565.4 18.4 L567.2 16.6 L568.6 17.2 L570.4 18.8" stroke="#14921e" stroke-width="1.2" fill="none"/>
<path d="M579.9 12.8 h5.6 l-2.8 3.2 z" fill="#000"/>
<path d="M609 6.8 V19 L611.8 16.4 L613.8 21 L615.6 20.2 L613.6 15.8 L617.2 15.6 Z" fill="#4d4d4d"/>
<path d="M634 14.5 H640 M643 14.5 H649 M641.5 7 V13 M641.5 16 V22" stroke="#3f3f3f" stroke-width="1.2"/>
<path d="M675.5 8 V21" stroke="#3f3f3f" stroke-width="1.2"/>
<path d="M698 14.5 H710" stroke="#3f3f3f" stroke-width="1.2"/>
<path d="M725.6 20.8 L737.8 9.2" stroke="#4a4a4a" stroke-width="1.2"/>
<path d="M752 16.4 L765.6 9 M752.6 20.4 L766 13 M754.4 20.6 L758 7.4 M758.4 20 L762 6.8 M762.4 17.6 L764.6 6.4" stroke="#4a4a4a" stroke-width="0.9" fill="none"/>
<path d="M766.4 18.8 H763.2 V22.4 H766.4 M763.2 20.6 H765.8" stroke="#333" stroke-width="1.1" fill="none"/>
<path d="M781 7.5 H794" stroke="#555" stroke-width="1" stroke-dasharray="1 1"/>
<path d="M781 10.5 H794" stroke="#555" stroke-width="1" stroke-dasharray="1 1"/>
<path d="M781 14.5 H794" stroke="#555" stroke-width="1" stroke-dasharray="1 1"/>
<path d="M781 18.5 H790" stroke="#555" stroke-width="1" stroke-dasharray="1 1"/>
<path d="M794.4 18.8 H791.4 V22.8 M791.4 20.7 H793.8" stroke="#333" stroke-width="1.1" fill="none"/>
<text x="811.4" y="18.8" font-size="12" font-weight="bold" fill="#555" textLength="8.4" lengthAdjust="spacingAndGlyphs">A</text>
<rect x="838" y="8" width="11.6" height="12.6" fill="none" stroke="#555" stroke-width="1" stroke-dasharray="1 1"/>
<text x="840.4" y="18.8" font-size="11" font-weight="bold" fill="#555">T</text>
<path d="M868.4 8.4 L872 11 L868.4 13 L865 11 Z M875.6 21 L872 18.4 L875.6 16.4 L879.2 18.4 Z" fill="#444"/>
<path d="M867 15.4 L869 17.4 L876.4 11" fill="none" stroke="#444" stroke-width="1.3"/>
<path d="M885.5 12.7 h5.6 l-2.8 3.2 z" fill="#000"/>
<g font-size="9.8" fill="#2a2a2a">
<text x="912.6" y="18" textLength="12.2" lengthAdjust="spacingAndGlyphs">M1</text>
<text x="940.6" y="18" textLength="12.6" lengthAdjust="spacingAndGlyphs">M5</text>
<text x="966.8" y="18" textLength="17.2" lengthAdjust="spacingAndGlyphs">M15</text>
<text x="994.8" y="18" textLength="17.5" lengthAdjust="spacingAndGlyphs">M30</text>
<text x="1025.6" y="18" textLength="11.5" lengthAdjust="spacingAndGlyphs">H1</text>
<text x="1052.5" y="18" textLength="12.2" lengthAdjust="spacingAndGlyphs">H4</text>
<text x="1081.7" y="18" textLength="11.7" lengthAdjust="spacingAndGlyphs">D1</text>
<text x="1109.2" y="18" textLength="13.8" lengthAdjust="spacingAndGlyphs">W1</text>
<text x="1135.5" y="18" textLength="14.7" lengthAdjust="spacingAndGlyphs">MN</text>
</g>
<path d="M1625.2 14.6 L1621 18.8" stroke="#2462e0" stroke-width="2.6" stroke-linecap="round"/>
<circle cx="1628.4" cy="11.4" r="4" fill="#f6f8ff" stroke="#2462e0" stroke-width="1.4"/>
<path d="M1662 15.4 L1664.6 17.8 L1664.2 15" fill="#fff" stroke="#8a8a8a" stroke-width="0.8"/>
<ellipse cx="1661" cy="10.8" rx="6.6" ry="4.7" fill="#fbfbfd" stroke="#909090" stroke-width="1"/>
<path d="M1650.6 18 L1649.4 20.6 L1652.6 18.6" fill="#fff" stroke="#808080" stroke-width="0.8"/>
<ellipse cx="1652.4" cy="15" rx="5" ry="3.8" fill="#f4f4f8" stroke="#909090" stroke-width="1"/>
</svg></body></html>
